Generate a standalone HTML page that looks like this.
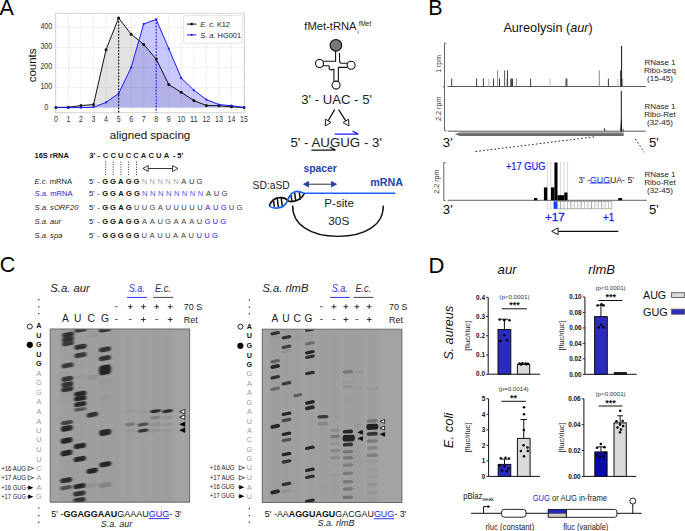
<!DOCTYPE html>
<html><head><meta charset="utf-8"><style>
html,body{margin:0;padding:0;background:#fff;}
body{width:685px;height:531px;overflow:hidden;}
svg{display:block;font-family:"Liberation Sans", sans-serif;}
</style></head><body>
<svg width="685" height="531" viewBox="0 0 685 531">
<defs>
<filter id="bl" x="-30%" y="-150%" width="160%" height="400%"><feGaussianBlur stdDeviation="0.85 0.75"/></filter>
<filter id="bl3" x="-30%" y="-150%" width="160%" height="400%"><feGaussianBlur stdDeviation="0.65 0.6"/></filter>
<filter id="lane" x="-50%" y="0%" width="200%" height="100%"><feGaussianBlur stdDeviation="1.5 0"/></filter>
<filter id="bl2" x="-30%" y="-150%" width="160%" height="400%"><feGaussianBlur stdDeviation="0.9 1.0"/></filter>
</defs>
<text x="-0.40" y="14.60" font-size="21.5">A</text>
<line x1="55.90" y1="13.30" x2="55.90" y2="112.70" stroke="#d8d8d8" stroke-width="0.7" stroke-dasharray="1.2 1.2"/>
<line x1="68.44" y1="13.30" x2="68.44" y2="112.70" stroke="#d8d8d8" stroke-width="0.7" stroke-dasharray="1.2 1.2"/>
<line x1="80.98" y1="13.30" x2="80.98" y2="112.70" stroke="#d8d8d8" stroke-width="0.7" stroke-dasharray="1.2 1.2"/>
<line x1="93.52" y1="13.30" x2="93.52" y2="112.70" stroke="#d8d8d8" stroke-width="0.7" stroke-dasharray="1.2 1.2"/>
<line x1="106.06" y1="13.30" x2="106.06" y2="112.70" stroke="#d8d8d8" stroke-width="0.7" stroke-dasharray="1.2 1.2"/>
<line x1="118.60" y1="13.30" x2="118.60" y2="112.70" stroke="#d8d8d8" stroke-width="0.7" stroke-dasharray="1.2 1.2"/>
<line x1="131.14" y1="13.30" x2="131.14" y2="112.70" stroke="#d8d8d8" stroke-width="0.7" stroke-dasharray="1.2 1.2"/>
<line x1="143.68" y1="13.30" x2="143.68" y2="112.70" stroke="#d8d8d8" stroke-width="0.7" stroke-dasharray="1.2 1.2"/>
<line x1="156.22" y1="13.30" x2="156.22" y2="112.70" stroke="#d8d8d8" stroke-width="0.7" stroke-dasharray="1.2 1.2"/>
<line x1="168.76" y1="13.30" x2="168.76" y2="112.70" stroke="#d8d8d8" stroke-width="0.7" stroke-dasharray="1.2 1.2"/>
<line x1="181.30" y1="13.30" x2="181.30" y2="112.70" stroke="#d8d8d8" stroke-width="0.7" stroke-dasharray="1.2 1.2"/>
<line x1="193.84" y1="13.30" x2="193.84" y2="112.70" stroke="#d8d8d8" stroke-width="0.7" stroke-dasharray="1.2 1.2"/>
<line x1="206.38" y1="13.30" x2="206.38" y2="112.70" stroke="#d8d8d8" stroke-width="0.7" stroke-dasharray="1.2 1.2"/>
<line x1="218.92" y1="13.30" x2="218.92" y2="112.70" stroke="#d8d8d8" stroke-width="0.7" stroke-dasharray="1.2 1.2"/>
<line x1="231.46" y1="13.30" x2="231.46" y2="112.70" stroke="#d8d8d8" stroke-width="0.7" stroke-dasharray="1.2 1.2"/>
<line x1="244.00" y1="13.30" x2="244.00" y2="112.70" stroke="#d8d8d8" stroke-width="0.7" stroke-dasharray="1.2 1.2"/>
<line x1="55.60" y1="107.60" x2="244.50" y2="107.60" stroke="#d8d8d8" stroke-width="0.7" stroke-dasharray="1.2 1.2"/>
<line x1="55.60" y1="87.55" x2="244.50" y2="87.55" stroke="#d8d8d8" stroke-width="0.7" stroke-dasharray="1.2 1.2"/>
<line x1="55.60" y1="67.50" x2="244.50" y2="67.50" stroke="#d8d8d8" stroke-width="0.7" stroke-dasharray="1.2 1.2"/>
<line x1="55.60" y1="47.45" x2="244.50" y2="47.45" stroke="#d8d8d8" stroke-width="0.7" stroke-dasharray="1.2 1.2"/>
<line x1="55.60" y1="27.40" x2="244.50" y2="27.40" stroke="#d8d8d8" stroke-width="0.7" stroke-dasharray="1.2 1.2"/>
<polygon points="55.90,107.60 55.90,107.40 68.44,107.20 80.98,105.59 93.52,104.59 106.06,49.66 118.60,17.98 131.14,34.22 143.68,44.44 156.22,59.08 168.76,84.54 181.30,92.36 193.84,100.58 206.38,105.49 218.92,105.70 231.46,106.80 244.00,107.50 244.00,107.60" fill="rgba(0,0,0,0.11)"/>
<polygon points="55.90,107.60 55.90,107.60 68.44,107.60 80.98,107.60 93.52,107.20 106.06,102.39 118.60,93.56 131.14,67.50 143.68,23.99 156.22,19.38 168.76,48.65 181.30,78.13 193.84,90.16 206.38,99.58 218.92,104.59 231.46,105.70 244.00,107.50 244.00,107.60" fill="rgba(0,0,255,0.21)"/>
<rect x="55.6" y="13.3" width="188.90" height="99.40" fill="none" stroke="#d4d4d4" stroke-width="1"/>
<line x1="118.60" y1="17.98" x2="118.60" y2="112.70" stroke="#000" stroke-width="1.2" stroke-dasharray="1.6 1.6"/>
<line x1="156.22" y1="19.38" x2="156.22" y2="112.70" stroke="#1a1aff" stroke-width="1.2" stroke-dasharray="1.6 1.6"/>
<polyline points="55.90,107.40 68.44,107.20 80.98,105.59 93.52,104.59 106.06,49.66 118.60,17.98 131.14,34.22 143.68,44.44 156.22,59.08 168.76,84.54 181.30,92.36 193.84,100.58 206.38,105.49 218.92,105.70 231.46,106.80 244.00,107.50" fill="none" stroke="#111" stroke-width="1"/>
<polyline points="55.90,107.60 68.44,107.60 80.98,107.60 93.52,107.20 106.06,102.39 118.60,93.56 131.14,67.50 143.68,23.99 156.22,19.38 168.76,48.65 181.30,78.13 193.84,90.16 206.38,99.58 218.92,104.59 231.46,105.70 244.00,107.50" fill="none" stroke="#1a1aff" stroke-width="1"/>
<circle cx="55.90" cy="107.40" r="1.5" fill="#111"/>
<circle cx="68.44" cy="107.20" r="1.5" fill="#111"/>
<circle cx="80.98" cy="105.59" r="1.5" fill="#111"/>
<circle cx="93.52" cy="104.59" r="1.5" fill="#111"/>
<circle cx="106.06" cy="49.66" r="1.5" fill="#111"/>
<circle cx="118.60" cy="17.98" r="1.5" fill="#111"/>
<circle cx="131.14" cy="34.22" r="1.5" fill="#111"/>
<circle cx="143.68" cy="44.44" r="1.5" fill="#111"/>
<circle cx="156.22" cy="59.08" r="1.5" fill="#111"/>
<circle cx="168.76" cy="84.54" r="1.5" fill="#111"/>
<circle cx="181.30" cy="92.36" r="1.5" fill="#111"/>
<circle cx="193.84" cy="100.58" r="1.5" fill="#111"/>
<circle cx="206.38" cy="105.49" r="1.5" fill="#111"/>
<circle cx="218.92" cy="105.70" r="1.5" fill="#111"/>
<circle cx="231.46" cy="106.80" r="1.5" fill="#111"/>
<circle cx="244.00" cy="107.50" r="1.5" fill="#111"/>
<circle cx="55.90" cy="107.60" r="1.1" fill="#1a1aff"/>
<circle cx="68.44" cy="107.60" r="1.1" fill="#1a1aff"/>
<circle cx="80.98" cy="107.60" r="1.1" fill="#1a1aff"/>
<circle cx="93.52" cy="107.20" r="1.1" fill="#1a1aff"/>
<circle cx="106.06" cy="102.39" r="1.1" fill="#1a1aff"/>
<circle cx="118.60" cy="93.56" r="1.1" fill="#1a1aff"/>
<circle cx="131.14" cy="67.50" r="1.1" fill="#1a1aff"/>
<circle cx="143.68" cy="23.99" r="1.1" fill="#1a1aff"/>
<circle cx="156.22" cy="19.38" r="1.1" fill="#1a1aff"/>
<circle cx="168.76" cy="48.65" r="1.1" fill="#1a1aff"/>
<circle cx="181.30" cy="78.13" r="1.1" fill="#1a1aff"/>
<circle cx="193.84" cy="90.16" r="1.1" fill="#1a1aff"/>
<circle cx="206.38" cy="99.58" r="1.1" fill="#1a1aff"/>
<circle cx="218.92" cy="104.59" r="1.1" fill="#1a1aff"/>
<circle cx="231.46" cy="105.70" r="1.1" fill="#1a1aff"/>
<circle cx="244.00" cy="107.50" r="1.1" fill="#1a1aff"/>
<rect x="183.6" y="15.4" width="58.6" height="27.8" rx="1.5" fill="#fff" stroke="#dcdcdc" stroke-width="0.8"/>
<line x1="187.00" y1="24.10" x2="196.40" y2="24.10" stroke="#111" stroke-width="1" />
<circle cx="191.7" cy="24.1" r="1.3" fill="#111"/>
<line x1="187.00" y1="34.90" x2="196.40" y2="34.90" stroke="#1a1aff" stroke-width="1" />
<circle cx="191.7" cy="34.9" r="1.1" fill="#1a1aff"/>
<text x="200.30" y="26.85" font-size="8.0" fill="#222" textLength="29.6" lengthAdjust="spacingAndGlyphs"><tspan font-style="italic">E. c.</tspan> K12</text>
<text x="200.30" y="37.65" font-size="8.0" fill="#222" textLength="40.8" lengthAdjust="spacingAndGlyphs"><tspan font-style="italic">S. a.</tspan> HG001</text>
<text x="52.30" y="88.98" font-size="8.8" text-anchor="end" fill="#333" textLength="11.9" lengthAdjust="spacingAndGlyphs">100</text>
<text x="52.30" y="68.93" font-size="8.8" text-anchor="end" fill="#333" textLength="11.9" lengthAdjust="spacingAndGlyphs">200</text>
<text x="52.30" y="48.88" font-size="8.8" text-anchor="end" fill="#333" textLength="11.9" lengthAdjust="spacingAndGlyphs">300</text>
<text x="52.30" y="28.83" font-size="8.8" text-anchor="end" fill="#333" textLength="11.9" lengthAdjust="spacingAndGlyphs">400</text>
<text x="46.30" y="109.53" font-size="8.8" text-anchor="middle" fill="#333" textLength="4.1" lengthAdjust="spacingAndGlyphs">0</text>
<text x="55.90" y="121.70" font-size="8.8" text-anchor="middle" fill="#333" textLength="3.9" lengthAdjust="spacingAndGlyphs">0</text>
<text x="68.44" y="121.70" font-size="8.8" text-anchor="middle" fill="#333" textLength="3.9" lengthAdjust="spacingAndGlyphs">1</text>
<text x="80.98" y="121.70" font-size="8.8" text-anchor="middle" fill="#333" textLength="3.9" lengthAdjust="spacingAndGlyphs">2</text>
<text x="93.52" y="121.70" font-size="8.8" text-anchor="middle" fill="#333" textLength="3.9" lengthAdjust="spacingAndGlyphs">3</text>
<text x="106.06" y="121.70" font-size="8.8" text-anchor="middle" fill="#333" textLength="3.9" lengthAdjust="spacingAndGlyphs">4</text>
<text x="118.60" y="121.70" font-size="8.8" text-anchor="middle" fill="#333" textLength="3.9" lengthAdjust="spacingAndGlyphs">5</text>
<text x="131.14" y="121.70" font-size="8.8" text-anchor="middle" fill="#333" textLength="3.9" lengthAdjust="spacingAndGlyphs">6</text>
<text x="143.68" y="121.70" font-size="8.8" text-anchor="middle" fill="#333" textLength="3.9" lengthAdjust="spacingAndGlyphs">7</text>
<text x="156.22" y="121.70" font-size="8.8" text-anchor="middle" fill="#333" textLength="3.9" lengthAdjust="spacingAndGlyphs">8</text>
<text x="168.76" y="121.70" font-size="8.8" text-anchor="middle" fill="#333" textLength="3.9" lengthAdjust="spacingAndGlyphs">9</text>
<text x="181.30" y="121.70" font-size="8.8" text-anchor="middle" fill="#333" textLength="7.8" lengthAdjust="spacingAndGlyphs">10</text>
<text x="193.84" y="121.70" font-size="8.8" text-anchor="middle" fill="#333" textLength="7.8" lengthAdjust="spacingAndGlyphs">11</text>
<text x="206.38" y="121.70" font-size="8.8" text-anchor="middle" fill="#333" textLength="7.8" lengthAdjust="spacingAndGlyphs">12</text>
<text x="218.92" y="121.70" font-size="8.8" text-anchor="middle" fill="#333" textLength="7.8" lengthAdjust="spacingAndGlyphs">13</text>
<text x="231.46" y="121.70" font-size="8.8" text-anchor="middle" fill="#333" textLength="7.8" lengthAdjust="spacingAndGlyphs">14</text>
<text x="244.00" y="121.70" font-size="8.8" text-anchor="middle" fill="#333" textLength="7.8" lengthAdjust="spacingAndGlyphs">15</text>
<text x="0" y="0" font-size="11.5" text-anchor="middle" fill="#111" transform="translate(35.6 65.4) rotate(-90)">counts</text>
<text x="150.00" y="138.60" font-size="11.6" text-anchor="middle" fill="#111">aligned spacing</text>
<text x="34.50" y="157.88" font-size="7.5" fill="#111" font-weight="bold" textLength="34.4" lengthAdjust="spacingAndGlyphs">16S rRNA</text>
<text x="34.50" y="184.21" font-size="7.6" fill="#222"><tspan font-style="italic">E.c.</tspan> mRNA</text>
<text x="34.50" y="195.91" font-size="7.6" fill="#2424e8"><tspan font-style="italic">S.a.</tspan> mRNA</text>
<text x="34.50" y="210.41" font-size="7.6" fill="#222" font-style="italic">S.a. sORF20</text>
<text x="34.50" y="224.41" font-size="7.6" fill="#222" font-style="italic">S.a. aur</text>
<text x="34.50" y="238.01" font-size="7.6" fill="#222" font-style="italic">S.a. spa</text>
<text x="89.30" y="157.91" font-size="7.6" fill="#111" font-weight="bold">3'</text>
<text x="97.50" y="157.91" font-size="7.6" fill="#111" font-weight="bold">-</text>
<text x="89.00" y="184.21" font-size="7.6" fill="#222">5'</text>
<text x="97.30" y="184.21" font-size="7.6" fill="#222">-</text>
<text x="89.00" y="195.91" font-size="7.6" fill="#222">5'</text>
<text x="97.30" y="195.91" font-size="7.6" fill="#222">-</text>
<text x="89.00" y="210.41" font-size="7.6" fill="#222">5'</text>
<text x="97.30" y="210.41" font-size="7.6" fill="#222">-</text>
<text x="89.00" y="224.41" font-size="7.6" fill="#222">5'</text>
<text x="97.30" y="224.41" font-size="7.6" fill="#222">-</text>
<text x="89.00" y="238.01" font-size="7.6" fill="#222">5'</text>
<text x="97.30" y="238.01" font-size="7.6" fill="#222">-</text>
<text x="105.60" y="157.91" font-size="7.6" text-anchor="middle" fill="#222" font-weight="bold">C</text>
<text x="113.20" y="157.91" font-size="7.6" text-anchor="middle" fill="#222" font-weight="bold">C</text>
<text x="120.80" y="157.91" font-size="7.6" text-anchor="middle" fill="#222" font-weight="bold">U</text>
<text x="128.40" y="157.91" font-size="7.6" text-anchor="middle" fill="#222" font-weight="bold">C</text>
<text x="136.00" y="157.91" font-size="7.6" text-anchor="middle" fill="#222" font-weight="bold">C</text>
<text x="143.60" y="157.91" font-size="7.6" text-anchor="middle" fill="#222" font-weight="bold">A</text>
<text x="151.20" y="157.91" font-size="7.6" text-anchor="middle" fill="#222" font-weight="bold">C</text>
<text x="158.80" y="157.91" font-size="7.6" text-anchor="middle" fill="#222" font-weight="bold">U</text>
<text x="166.40" y="157.91" font-size="7.6" text-anchor="middle" fill="#222" font-weight="bold">A</text>
<text x="173.00" y="157.91" font-size="7.6" fill="#111" font-weight="bold">-</text>
<text x="177.30" y="157.91" font-size="7.6" fill="#111" font-weight="bold">5'</text>
<text x="105.10" y="184.21" font-size="7.6" text-anchor="middle" fill="#111" font-weight="bold">G</text>
<text x="112.97" y="184.21" font-size="7.6" text-anchor="middle" fill="#111" font-weight="bold">G</text>
<text x="120.84" y="184.21" font-size="7.6" text-anchor="middle" fill="#111" font-weight="bold">A</text>
<text x="128.71" y="184.21" font-size="7.6" text-anchor="middle" fill="#111" font-weight="bold">G</text>
<text x="136.58" y="184.21" font-size="7.6" text-anchor="middle" fill="#111" font-weight="bold">G</text>
<text x="144.45" y="184.21" font-size="7.6" text-anchor="middle" fill="#a8a8a8">N</text>
<text x="152.32" y="184.21" font-size="7.6" text-anchor="middle" fill="#a8a8a8">N</text>
<text x="160.19" y="184.21" font-size="7.6" text-anchor="middle" fill="#a8a8a8">N</text>
<text x="168.06" y="184.21" font-size="7.6" text-anchor="middle" fill="#a8a8a8">N</text>
<text x="175.93" y="184.21" font-size="7.6" text-anchor="middle" fill="#a8a8a8">N</text>
<text x="183.80" y="184.21" font-size="7.6" text-anchor="middle" fill="#333">A</text>
<text x="191.67" y="184.21" font-size="7.6" text-anchor="middle" fill="#333">U</text>
<text x="199.54" y="184.21" font-size="7.6" text-anchor="middle" fill="#333">G</text>
<text x="105.10" y="195.91" font-size="7.6" text-anchor="middle" fill="#111" font-weight="bold">G</text>
<text x="113.05" y="195.91" font-size="7.6" text-anchor="middle" fill="#111" font-weight="bold">G</text>
<text x="121.00" y="195.91" font-size="7.6" text-anchor="middle" fill="#111" font-weight="bold">A</text>
<text x="128.95" y="195.91" font-size="7.6" text-anchor="middle" fill="#111" font-weight="bold">G</text>
<text x="136.90" y="195.91" font-size="7.6" text-anchor="middle" fill="#111" font-weight="bold">G</text>
<text x="144.85" y="195.91" font-size="7.6" text-anchor="middle" fill="#5a5aff">N</text>
<text x="152.80" y="195.91" font-size="7.6" text-anchor="middle" fill="#5a5aff">N</text>
<text x="160.75" y="195.91" font-size="7.6" text-anchor="middle" fill="#5a5aff">N</text>
<text x="168.70" y="195.91" font-size="7.6" text-anchor="middle" fill="#5a5aff">N</text>
<text x="176.65" y="195.91" font-size="7.6" text-anchor="middle" fill="#5a5aff">N</text>
<text x="184.60" y="195.91" font-size="7.6" text-anchor="middle" fill="#5a5aff">N</text>
<text x="192.55" y="195.91" font-size="7.6" text-anchor="middle" fill="#5a5aff">N</text>
<text x="200.50" y="195.91" font-size="7.6" text-anchor="middle" fill="#5a5aff">N</text>
<text x="208.45" y="195.91" font-size="7.6" text-anchor="middle" fill="#333">A</text>
<text x="216.40" y="195.91" font-size="7.6" text-anchor="middle" fill="#333">U</text>
<text x="224.35" y="195.91" font-size="7.6" text-anchor="middle" fill="#333">G</text>
<text x="105.10" y="210.41" font-size="7.6" text-anchor="middle" fill="#111" font-weight="bold">G</text>
<text x="113.00" y="210.41" font-size="7.6" text-anchor="middle" fill="#111" font-weight="bold">G</text>
<text x="120.90" y="210.41" font-size="7.6" text-anchor="middle" fill="#111" font-weight="bold">A</text>
<text x="128.80" y="210.41" font-size="7.6" text-anchor="middle" fill="#111" font-weight="bold">G</text>
<text x="136.70" y="210.41" font-size="7.6" text-anchor="middle" fill="#444">U</text>
<text x="144.60" y="210.41" font-size="7.6" text-anchor="middle" fill="#444">U</text>
<text x="152.50" y="210.41" font-size="7.6" text-anchor="middle" fill="#444">G</text>
<text x="160.40" y="210.41" font-size="7.6" text-anchor="middle" fill="#444">A</text>
<text x="168.30" y="210.41" font-size="7.6" text-anchor="middle" fill="#444">U</text>
<text x="176.20" y="210.41" font-size="7.6" text-anchor="middle" fill="#444">U</text>
<text x="184.10" y="210.41" font-size="7.6" text-anchor="middle" fill="#444">U</text>
<text x="192.00" y="210.41" font-size="7.6" text-anchor="middle" fill="#444">U</text>
<text x="199.90" y="210.41" font-size="7.6" text-anchor="middle" fill="#444">U</text>
<text x="207.80" y="210.41" font-size="7.6" text-anchor="middle" fill="#2424e8">A</text>
<text x="215.70" y="210.41" font-size="7.6" text-anchor="middle" fill="#2424e8">U</text>
<text x="223.60" y="210.41" font-size="7.6" text-anchor="middle" fill="#2424e8">G</text>
<text x="231.50" y="210.41" font-size="7.6" text-anchor="middle" fill="#444">U</text>
<text x="239.40" y="210.41" font-size="7.6" text-anchor="middle" fill="#444">G</text>
<text x="105.10" y="224.41" font-size="7.6" text-anchor="middle" fill="#111" font-weight="bold">G</text>
<text x="112.97" y="224.41" font-size="7.6" text-anchor="middle" fill="#111" font-weight="bold">G</text>
<text x="120.84" y="224.41" font-size="7.6" text-anchor="middle" fill="#111" font-weight="bold">A</text>
<text x="128.71" y="224.41" font-size="7.6" text-anchor="middle" fill="#111" font-weight="bold">G</text>
<text x="136.58" y="224.41" font-size="7.6" text-anchor="middle" fill="#111" font-weight="bold">G</text>
<text x="144.45" y="224.41" font-size="7.6" text-anchor="middle" fill="#444">A</text>
<text x="152.32" y="224.41" font-size="7.6" text-anchor="middle" fill="#444">A</text>
<text x="160.19" y="224.41" font-size="7.6" text-anchor="middle" fill="#444">U</text>
<text x="168.06" y="224.41" font-size="7.6" text-anchor="middle" fill="#444">G</text>
<text x="175.93" y="224.41" font-size="7.6" text-anchor="middle" fill="#444">A</text>
<text x="183.80" y="224.41" font-size="7.6" text-anchor="middle" fill="#444">A</text>
<text x="191.67" y="224.41" font-size="7.6" text-anchor="middle" fill="#444">A</text>
<text x="199.54" y="224.41" font-size="7.6" text-anchor="middle" fill="#444">U</text>
<text x="207.41" y="224.41" font-size="7.6" text-anchor="middle" fill="#2424e8">G</text>
<text x="215.28" y="224.41" font-size="7.6" text-anchor="middle" fill="#2424e8">U</text>
<text x="223.15" y="224.41" font-size="7.6" text-anchor="middle" fill="#2424e8">G</text>
<text x="105.10" y="238.01" font-size="7.6" text-anchor="middle" fill="#111" font-weight="bold">G</text>
<text x="112.94" y="238.01" font-size="7.6" text-anchor="middle" fill="#111" font-weight="bold">G</text>
<text x="120.78" y="238.01" font-size="7.6" text-anchor="middle" fill="#111" font-weight="bold">G</text>
<text x="128.62" y="238.01" font-size="7.6" text-anchor="middle" fill="#111" font-weight="bold">G</text>
<text x="136.46" y="238.01" font-size="7.6" text-anchor="middle" fill="#111" font-weight="bold">G</text>
<text x="144.30" y="238.01" font-size="7.6" text-anchor="middle" fill="#444">U</text>
<text x="152.14" y="238.01" font-size="7.6" text-anchor="middle" fill="#444">A</text>
<text x="159.98" y="238.01" font-size="7.6" text-anchor="middle" fill="#444">U</text>
<text x="167.82" y="238.01" font-size="7.6" text-anchor="middle" fill="#444">U</text>
<text x="175.66" y="238.01" font-size="7.6" text-anchor="middle" fill="#444">A</text>
<text x="183.50" y="238.01" font-size="7.6" text-anchor="middle" fill="#444">A</text>
<text x="191.34" y="238.01" font-size="7.6" text-anchor="middle" fill="#444">U</text>
<text x="199.18" y="238.01" font-size="7.6" text-anchor="middle" fill="#2424e8">U</text>
<text x="207.02" y="238.01" font-size="7.6" text-anchor="middle" fill="#2424e8">U</text>
<text x="214.86" y="238.01" font-size="7.6" text-anchor="middle" fill="#2424e8">G</text>
<line x1="105.70" y1="161.60" x2="105.70" y2="176.40" stroke="#111" stroke-width="0.9" stroke-dasharray="1 1.5"/>
<line x1="113.20" y1="161.60" x2="113.20" y2="176.40" stroke="#111" stroke-width="0.9" stroke-dasharray="1 1.5"/>
<line x1="120.90" y1="161.60" x2="120.90" y2="176.40" stroke="#111" stroke-width="0.9" stroke-dasharray="1 1.5"/>
<line x1="128.60" y1="161.60" x2="128.60" y2="176.40" stroke="#111" stroke-width="0.9" stroke-dasharray="1 1.5"/>
<line x1="136.50" y1="161.60" x2="136.50" y2="176.40" stroke="#111" stroke-width="0.9" stroke-dasharray="1 1.5"/>
<line x1="147.00" y1="168.50" x2="174.00" y2="168.50" stroke="#222" stroke-width="0.9" />
<path d="M142.8,168.5 L148.2,165.5 L148.2,171.5 Z" fill="#fff" stroke="#222" stroke-width="0.9"/>
<path d="M177.9,168.5 L172.5,165.5 L172.5,171.5 Z" fill="#fff" stroke="#222" stroke-width="0.9"/>
<text x="304.30" y="29.75" font-size="11.2" fill="#222">fMet-tRNA</text>
<text x="358.70" y="25.80" font-size="6.3" fill="#222" textLength="12.5" lengthAdjust="spacingAndGlyphs">fMet</text>
<text x="357.40" y="33.60" font-size="5.6" fill="#222">i</text>
<circle cx="335.9" cy="45.3" r="5.8" fill="#777" stroke="#111" stroke-width="1.1"/>
<path d="M335.6,51 L335.6,61.2 L323.5,61.2" stroke="#111" stroke-width="1.1" fill="none" stroke-linecap="round" stroke-linejoin="round"/>
<path d="M339.5,53.3 L339.6,61.5 Q340,63.2 341.5,63.2 L347.2,63.2" stroke="#111" stroke-width="1.1" fill="none" stroke-linecap="round" stroke-linejoin="round"/>
<path d="M338.4,67.4 L347.2,67.4 M338.4,67.4 L338.4,81.2" stroke="#111" stroke-width="1.1" fill="none" stroke-linecap="round" stroke-linejoin="round"/>
<path d="M323.5,65.8 L328.4,65.8 Q329.5,66 329.2,67.5 Q328.8,69.3 330.5,69.8 Q332.3,70.2 333.3,69.2 L333.9,69.2 L333.9,81.2" stroke="#111" stroke-width="1.1" fill="none" stroke-linecap="round" stroke-linejoin="round"/>
<circle cx="319.5" cy="63.5" r="4" fill="#fff" stroke="#111" stroke-width="1.1"/>
<circle cx="351.1" cy="65.3" r="4" fill="#fff" stroke="#111" stroke-width="1.1"/>
<circle cx="336.1" cy="85.1" r="4" fill="#fff" stroke="#111" stroke-width="1.1"/>
<text x="301.20" y="103.70" font-size="12.2" fill="#222" textLength="70.8" lengthAdjust="spacingAndGlyphs">3' - UAC - 5'</text>
<line x1="334.60" y1="109.60" x2="328.26" y2="120.78" stroke="#111" stroke-width="1.2" />
<path d="M325.30,126.00 L325.48,119.20 L331.04,122.36 Z" fill="#fff" stroke="#111" stroke-width="0.96" stroke-linejoin="miter"/>
<line x1="338.60" y1="109.60" x2="345.79" y2="120.93" stroke="#111" stroke-width="1.2" />
<path d="M349.00,126.00 L343.08,122.65 L348.49,119.22 Z" fill="#fff" stroke="#111" stroke-width="0.96" stroke-linejoin="miter"/>
<text x="290.40" y="146.54" font-size="13.2" fill="#222" textLength="91.6" lengthAdjust="spacingAndGlyphs">5' - AUGUG - 3'</text>
<path d="M334.6,134.1 L358.2,134.1 L352.5,131.0" fill="none" stroke="#1a1aff" stroke-width="1.3"/>
<path d="M311.3,150.1 L335.4,150.1 L329.7,147.0" fill="none" stroke="#111" stroke-width="1.3"/>
<text x="303.40" y="172.30" font-size="10.5" fill="#2046ad" font-weight="bold" textLength="33.4" lengthAdjust="spacingAndGlyphs">spacer</text>
<line x1="308.00" y1="184.20" x2="332.00" y2="184.20" stroke="#333" stroke-width="1" />
<path d="M303.4,184.2 L308.6,181.3 L308.6,187.1 Z" fill="#1a3cd8" stroke="#223" stroke-width="0.5"/>
<path d="M336.6,184.2 L331.4,181.3 L331.4,187.1 Z" fill="#1a3cd8" stroke="#223" stroke-width="0.5"/>
<text x="252.60" y="189.07" font-size="10.1" fill="#222" textLength="37.2" lengthAdjust="spacingAndGlyphs">SD:aSD</text>
<text x="370.30" y="185.92" font-size="10.8" fill="#2046ad" font-weight="bold" textLength="32.7" lengthAdjust="spacingAndGlyphs">mRNA</text>
<line x1="304.20" y1="193.30" x2="395.30" y2="193.30" stroke="#1f5fff" stroke-width="1.5" />
<line x1="273.30" y1="199.90" x2="274.40" y2="206.90" stroke="#111" stroke-width="1.5" />
<line x1="277.20" y1="198.40" x2="278.50" y2="207.60" stroke="#111" stroke-width="1.5" />
<line x1="281.20" y1="198.20" x2="282.40" y2="207.00" stroke="#111" stroke-width="1.5" />
<line x1="290.80" y1="194.40" x2="291.90" y2="201.30" stroke="#111" stroke-width="1.5" />
<line x1="294.60" y1="192.40" x2="295.80" y2="201.40" stroke="#111" stroke-width="1.5" />
<line x1="299.20" y1="192.00" x2="300.40" y2="199.60" stroke="#111" stroke-width="1.5" />
<path d="M269.3,206.0 C271.5,200 276,197.6 280.5,197.7 C284,197.8 286.3,198.8 287.6,200.3" fill="none" stroke="#111" stroke-width="1.7"/>
<path d="M287.6,200.3 C289,202 291,201.6 293,201.4 C298.5,200.8 302.5,197 304.4,193.4" fill="none" stroke="#111" stroke-width="1.7"/>
<path d="M269.3,206.0 C271,207.6 274,208.3 277,208.1 C282,207.8 286,205 287.6,200.3 C289.5,194.5 293.5,191.2 297,191.3 C300.5,191.4 302.5,192.6 304.4,193.4" fill="none" stroke="#1f5fff" stroke-width="1.7"/>
<path d="M292.7,205.5 C292.0,224 310,236.4 338,236.4 C366,236.4 384,224 383.2,205.6" fill="none" stroke="#111" stroke-width="1.4"/>
<text x="324.30" y="207.05" font-size="11.2" fill="#222" textLength="29.7" lengthAdjust="spacingAndGlyphs">P-site</text>
<text x="328.30" y="225.05" font-size="11.2" fill="#222" textLength="21" lengthAdjust="spacingAndGlyphs">30S</text>
<text x="428.30" y="14.60" font-size="21.5">B</text>
<text x="503.40" y="31.63" font-size="12.6" fill="#111" textLength="89.3" lengthAdjust="spacingAndGlyphs">Aureolysin (<tspan font-style="italic">aur</tspan>)</text>
<line x1="444.50" y1="43.20" x2="444.50" y2="130.60" stroke="#555" stroke-width="0.9" />
<line x1="444.50" y1="43.20" x2="446.30" y2="43.20" stroke="#555" stroke-width="0.9" />
<line x1="442.80" y1="86.80" x2="444.50" y2="86.80" stroke="#555" stroke-width="0.9" />
<line x1="444.50" y1="130.60" x2="446.30" y2="130.60" stroke="#555" stroke-width="0.9" />
<line x1="447.60" y1="86.50" x2="645.80" y2="86.50" stroke="#444" stroke-width="0.9" />
<line x1="447.60" y1="131.20" x2="645.80" y2="131.20" stroke="#444" stroke-width="0.9" />
<text x="0" y="0" font-size="7" text-anchor="middle" fill="#333" transform="translate(440.9 63.9) rotate(-90)">1 rpm</text>
<text x="0" y="0" font-size="7.2" text-anchor="middle" fill="#333" transform="translate(440.9 108.7) rotate(-90)">2.2 rpm</text>
<line x1="451.70" y1="78.60" x2="451.70" y2="86.50" stroke="#3c3c3c" stroke-width="1.0" />
<line x1="476.60" y1="78.60" x2="476.60" y2="86.50" stroke="#3c3c3c" stroke-width="1.0" />
<line x1="483.40" y1="78.60" x2="483.40" y2="86.50" stroke="#3c3c3c" stroke-width="1.0" />
<line x1="488.80" y1="78.60" x2="488.80" y2="86.50" stroke="#bbbbbb" stroke-width="1.0" />
<line x1="493.50" y1="78.60" x2="493.50" y2="86.50" stroke="#3c3c3c" stroke-width="1.0" />
<line x1="497.60" y1="70.30" x2="497.60" y2="86.50" stroke="#8a8a8a" stroke-width="1.0" />
<line x1="499.50" y1="78.60" x2="499.50" y2="86.50" stroke="#3c3c3c" stroke-width="1.0" />
<line x1="504.60" y1="70.30" x2="504.60" y2="86.50" stroke="#555" stroke-width="1.0" />
<line x1="506.80" y1="78.60" x2="506.80" y2="86.50" stroke="#bbbbbb" stroke-width="1.0" />
<line x1="507.50" y1="70.30" x2="507.50" y2="86.50" stroke="#3c3c3c" stroke-width="1.0" />
<line x1="510.80" y1="78.60" x2="510.80" y2="86.50" stroke="#3c3c3c" stroke-width="1.0" />
<line x1="511.60" y1="78.60" x2="511.60" y2="86.50" stroke="#3c3c3c" stroke-width="1.0" />
<line x1="512.50" y1="78.60" x2="512.50" y2="86.50" stroke="#3c3c3c" stroke-width="1.0" />
<line x1="516.40" y1="78.60" x2="516.40" y2="86.50" stroke="#8a8a8a" stroke-width="1.0" />
<line x1="530.60" y1="78.60" x2="530.60" y2="86.50" stroke="#3c3c3c" stroke-width="1.0" />
<line x1="550.00" y1="78.60" x2="550.00" y2="86.50" stroke="#bbbbbb" stroke-width="1.0" />
<line x1="566.00" y1="78.60" x2="566.00" y2="86.50" stroke="#3c3c3c" stroke-width="1.0" />
<line x1="566.90" y1="78.60" x2="566.90" y2="86.50" stroke="#3c3c3c" stroke-width="1.0" />
<line x1="599.30" y1="70.30" x2="599.30" y2="86.50" stroke="#8a8a8a" stroke-width="1.0" />
<line x1="608.40" y1="78.60" x2="608.40" y2="86.50" stroke="#3c3c3c" stroke-width="1.0" />
<line x1="617.90" y1="78.60" x2="617.90" y2="86.50" stroke="#bbbbbb" stroke-width="1.0" />
<line x1="620.60" y1="70.30" x2="620.60" y2="86.50" stroke="#3c3c3c" stroke-width="1.0" />
<line x1="621.60" y1="45.90" x2="621.60" y2="86.50" stroke="#111" stroke-width="1.0" />
<line x1="622.60" y1="78.60" x2="622.60" y2="86.50" stroke="#8a8a8a" stroke-width="1.0" />
<line x1="621.30" y1="90.90" x2="621.30" y2="131.20" stroke="#111" stroke-width="1.0" />
<path d="M620.3,131.2 L621.3,116 L622.3,131.2 Z" fill="#111"/>
<line x1="604.60" y1="128.30" x2="604.60" y2="131.20" stroke="#333" stroke-width="1.0" />
<line x1="623.40" y1="128.80" x2="623.40" y2="131.20" stroke="#555" stroke-width="0.8" />
<path d="M454.6,134.3 L460,132.6 L623.6,132.6 L623.6,136.0 L460,136.0 Z" fill="#6a6a6a"/>
<line x1="460.00" y1="133.20" x2="623.60" y2="133.20" stroke="#9a9a9a" stroke-width="0.6" />
<text x="660.00" y="64.95" font-size="8.0" text-anchor="middle" fill="#222">RNase 1</text>
<text x="660.00" y="72.95" font-size="8.0" text-anchor="middle" fill="#222">Ribo-seq</text>
<text x="660.00" y="81.05" font-size="8.0" text-anchor="middle" fill="#222">(15-45)</text>
<text x="660.00" y="108.95" font-size="8.0" text-anchor="middle" fill="#222">RNase 1</text>
<text x="660.00" y="116.55" font-size="8.0" text-anchor="middle" fill="#222">Ribo-Ret</text>
<text x="660.00" y="124.75" font-size="8.0" text-anchor="middle" fill="#222">(32-45)</text>
<text x="442.80" y="146.54" font-size="13.2" fill="#111">3'</text>
<text x="649.00" y="146.74" font-size="13.2" fill="#111">5'</text>
<line x1="594.00" y1="136.90" x2="473.60" y2="151.80" stroke="#222" stroke-width="1.0" stroke-dasharray="1.6 2.2"/>
<line x1="635.30" y1="139.00" x2="644.40" y2="152.30" stroke="#222" stroke-width="1.0" stroke-dasharray="1.6 2.2"/>
<line x1="443.80" y1="162.60" x2="443.80" y2="200.50" stroke="#555" stroke-width="0.9" />
<line x1="443.80" y1="162.60" x2="445.50" y2="162.60" stroke="#555" stroke-width="0.9" />
<line x1="443.80" y1="200.50" x2="445.50" y2="200.50" stroke="#555" stroke-width="0.9" />
<line x1="447.60" y1="200.30" x2="646.90" y2="200.30" stroke="#555" stroke-width="0.9" />
<text x="0" y="0" font-size="7.2" text-anchor="middle" fill="#333" transform="translate(439.4 181.6) rotate(-90)">2.2 rpm</text>
<line x1="547.30" y1="162.50" x2="547.30" y2="210.00" stroke="#808080" stroke-width="0.7" stroke-dasharray="0.9 1.1"/>
<line x1="550.80" y1="162.50" x2="550.80" y2="210.00" stroke="#808080" stroke-width="0.7" stroke-dasharray="0.9 1.1"/>
<line x1="560.50" y1="162.50" x2="560.50" y2="210.00" stroke="#808080" stroke-width="0.7" stroke-dasharray="0.9 1.1"/>
<line x1="564.00" y1="162.50" x2="564.00" y2="210.00" stroke="#808080" stroke-width="0.7" stroke-dasharray="0.9 1.1"/>
<line x1="567.60" y1="162.50" x2="567.60" y2="210.00" stroke="#808080" stroke-width="0.7" stroke-dasharray="0.9 1.1"/>
<rect x="534.00" y="198.00" width="3.30" height="2.30" fill="#000" />
<rect x="543.90" y="187.40" width="3.40" height="12.90" fill="#000" />
<rect x="551.00" y="187.40" width="3.40" height="12.90" fill="#000" />
<rect x="554.40" y="162.50" width="3.10" height="37.80" fill="#000" />
<rect x="557.50" y="195.20" width="6.80" height="5.10" fill="#000" />
<rect x="564.30" y="192.50" width="3.20" height="7.80" fill="#000" />
<rect x="618.30" y="198.00" width="3.80" height="2.30" fill="#000" />
<rect x="553.80" y="201.60" width="58.10" height="7.20" fill="#fafafa" stroke="#8a8a8a" stroke-width="0.6"/>
<line x1="557.22" y1="201.60" x2="557.22" y2="208.80" stroke="#a0a0a0" stroke-width="0.6" />
<line x1="560.64" y1="201.60" x2="560.64" y2="208.80" stroke="#6a6a6a" stroke-width="0.6" />
<line x1="564.05" y1="201.60" x2="564.05" y2="208.80" stroke="#a0a0a0" stroke-width="0.6" />
<line x1="567.47" y1="201.60" x2="567.47" y2="208.80" stroke="#a0a0a0" stroke-width="0.6" />
<line x1="570.89" y1="201.60" x2="570.89" y2="208.80" stroke="#6a6a6a" stroke-width="0.6" />
<line x1="574.31" y1="201.60" x2="574.31" y2="208.80" stroke="#a0a0a0" stroke-width="0.6" />
<line x1="577.72" y1="201.60" x2="577.72" y2="208.80" stroke="#a0a0a0" stroke-width="0.6" />
<line x1="581.14" y1="201.60" x2="581.14" y2="208.80" stroke="#6a6a6a" stroke-width="0.6" />
<line x1="584.56" y1="201.60" x2="584.56" y2="208.80" stroke="#a0a0a0" stroke-width="0.6" />
<line x1="587.98" y1="201.60" x2="587.98" y2="208.80" stroke="#a0a0a0" stroke-width="0.6" />
<line x1="591.39" y1="201.60" x2="591.39" y2="208.80" stroke="#6a6a6a" stroke-width="0.6" />
<line x1="594.81" y1="201.60" x2="594.81" y2="208.80" stroke="#a0a0a0" stroke-width="0.6" />
<line x1="598.23" y1="201.60" x2="598.23" y2="208.80" stroke="#a0a0a0" stroke-width="0.6" />
<line x1="601.65" y1="201.60" x2="601.65" y2="208.80" stroke="#6a6a6a" stroke-width="0.6" />
<line x1="605.06" y1="201.60" x2="605.06" y2="208.80" stroke="#a0a0a0" stroke-width="0.6" />
<line x1="608.48" y1="201.60" x2="608.48" y2="208.80" stroke="#a0a0a0" stroke-width="0.6" />
<rect x="553.80" y="201.60" width="3.60" height="7.20" fill="#1a3cff" />
<text x="505.90" y="170.31" font-size="10.2" fill="#1a1aff" textLength="39.5" lengthAdjust="spacingAndGlyphs" stroke="#1a1aff" stroke-width="0.2">+17 GUG</text>
<text x="578.20" y="183.23" font-size="9.4" fill="#222" textLength="55.8" lengthAdjust="spacingAndGlyphs">3' -<tspan fill="#1a1aff">GUG</tspan>UA- 5'</text>
<line x1="590.00" y1="183.00" x2="610.60" y2="183.00" stroke="#1a1aff" stroke-width="0.8" />
<text x="660.00" y="176.75" font-size="8.0" text-anchor="middle" fill="#222">RNase 1</text>
<text x="660.00" y="184.85" font-size="8.0" text-anchor="middle" fill="#222">Ribo-Ret</text>
<text x="660.00" y="192.75" font-size="8.0" text-anchor="middle" fill="#222">(32-45)</text>
<text x="442.80" y="213.54" font-size="13.2" fill="#111">3'</text>
<text x="649.00" y="213.54" font-size="13.2" fill="#111">5'</text>
<text x="544.90" y="221.10" font-size="11.8" fill="#1a1aff" textLength="19.9" lengthAdjust="spacingAndGlyphs" stroke="#1a1aff" stroke-width="0.3">+17</text>
<text x="603.10" y="221.10" font-size="11.8" fill="#1a1aff" textLength="11.1" lengthAdjust="spacingAndGlyphs" stroke="#1a1aff" stroke-width="0.3">+1</text>
<line x1="618.30" y1="231.30" x2="558.10" y2="231.30" stroke="#111" stroke-width="1.2" />
<path d="M551.70,231.30 L558.10,227.90 L558.10,234.70 Z" fill="#fff" stroke="#111" stroke-width="0.96" stroke-linejoin="miter"/>
<text x="-0.30" y="272.40" font-size="21.5">C</text>
<rect x="50.2" y="329.0" width="139.40" height="173.20" fill="#a3a3a3"/>
<rect x="60.50" y="329.00" width="12.20" height="173.20" fill="rgba(0,0,0,0.03)" filter="url(#lane)"/>
<rect x="73.75" y="329.00" width="12.30" height="173.20" fill="rgba(0,0,0,0.03)" filter="url(#lane)"/>
<rect x="87.00" y="329.00" width="11.00" height="173.20" fill="rgba(0,0,0,0.03)" filter="url(#lane)"/>
<rect x="98.85" y="329.00" width="12.50" height="173.20" fill="rgba(0,0,0,0.03)" filter="url(#lane)"/>
<rect x="111.35" y="329.00" width="10.50" height="173.20" fill="rgba(0,0,0,0.03)" filter="url(#lane)"/>
<rect x="125.05" y="329.00" width="10.50" height="173.20" fill="rgba(0,0,0,0.03)" filter="url(#lane)"/>
<rect x="137.85" y="329.00" width="10.50" height="173.20" fill="rgba(0,0,0,0.03)" filter="url(#lane)"/>
<rect x="150.25" y="329.00" width="10.50" height="173.20" fill="rgba(0,0,0,0.03)" filter="url(#lane)"/>
<rect x="162.35" y="329.00" width="10.50" height="173.20" fill="rgba(0,0,0,0.03)" filter="url(#lane)"/>
<g clip-path="url(#clip50)">
<path d="M64.14,333.01 L71.94,331.61 C73.04,331.61 73.94,332.68 73.94,334.00 C73.94,335.32 73.04,336.39 71.94,336.39 L64.14,337.79 C63.04,337.79 62.14,336.72 62.14,335.40 C62.14,334.08 63.04,333.01 64.14,333.01 Z" fill="rgb(48,48,48)" filter="url(#bl)"/>
<path d="M64.08,337.41 L71.88,336.01 C72.98,336.01 73.88,337.08 73.88,338.40 C73.88,339.72 72.98,340.79 71.88,340.79 L64.08,342.19 C62.98,342.19 62.08,341.12 62.08,339.80 C62.08,338.48 62.98,337.41 64.08,337.41 Z" fill="rgb(48,48,48)" filter="url(#bl)"/>
<path d="M64.02,341.71 L71.82,340.31 C72.92,340.31 73.82,341.38 73.82,342.70 C73.82,344.02 72.92,345.09 71.82,345.09 L64.02,346.49 C62.92,346.49 62.02,345.42 62.02,344.10 C62.02,342.78 62.92,341.71 64.02,341.71 Z" fill="rgb(56,56,56)" filter="url(#bl)"/>
<path d="M63.74,363.71 L71.54,362.31 C72.64,362.31 73.54,363.38 73.54,364.70 C73.54,366.02 72.64,367.09 71.54,367.09 L63.74,368.49 C62.64,368.49 61.74,367.42 61.74,366.10 C61.74,364.78 62.64,363.71 63.74,363.71 Z" fill="rgb(56,56,56)" filter="url(#bl)"/>
<path d="M63.56,377.11 L71.36,375.71 C72.46,375.71 73.36,376.78 73.36,378.10 C73.36,379.42 72.46,380.49 71.36,380.49 L63.56,381.89 C62.46,381.89 61.56,380.82 61.56,379.50 C61.56,378.18 62.46,377.11 63.56,377.11 Z" fill="rgb(56,56,56)" filter="url(#bl)"/>
<path d="M63.49,382.71 L71.29,381.31 C72.39,381.31 73.29,382.38 73.29,383.70 C73.29,385.02 72.39,386.09 71.29,386.09 L63.49,387.49 C62.39,387.49 61.49,386.42 61.49,385.10 C61.49,383.78 62.39,382.71 63.49,382.71 Z" fill="rgb(48,48,48)" filter="url(#bl)"/>
<path d="M63.42,387.51 L71.22,386.11 C72.32,386.11 73.22,387.18 73.22,388.50 C73.22,389.82 72.32,390.89 71.22,390.89 L63.42,392.29 C62.32,392.29 61.42,391.22 61.42,389.90 C61.42,388.58 62.32,387.51 63.42,387.51 Z" fill="rgb(48,48,48)" filter="url(#bl)"/>
<path d="M63.36,392.81 L71.16,391.41 C72.26,391.41 73.16,392.48 73.16,393.80 C73.16,395.12 72.26,396.19 71.16,396.19 L63.36,397.59 C62.26,397.59 61.36,396.52 61.36,395.20 C61.36,393.88 62.26,392.81 63.36,392.81 Z" fill="rgb(152,152,152)" filter="url(#bl)"/>
<path d="M63.28,398.41 L71.08,397.01 C72.18,397.01 73.08,398.08 73.08,399.40 C73.08,400.72 72.18,401.79 71.08,401.79 L63.28,403.19 C62.18,403.19 61.28,402.12 61.28,400.80 C61.28,399.48 62.18,398.41 63.28,398.41 Z" fill="rgb(155,155,155)" filter="url(#bl)"/>
<path d="M62.99,421.31 L70.79,419.91 C71.89,419.91 72.79,420.80 72.79,421.90 C72.79,423.00 71.89,423.90 70.79,423.90 L62.99,425.30 C61.89,425.30 60.99,424.40 60.99,423.30 C60.99,422.20 61.89,421.31 62.99,421.31 Z" fill="rgb(64,64,64)" filter="url(#bl)"/>
<path d="M62.91,426.31 L70.71,424.91 C71.81,424.91 72.71,426.16 72.71,427.70 C72.71,429.24 71.81,430.49 70.71,430.49 L62.91,431.89 C61.81,431.89 60.91,430.64 60.91,429.10 C60.91,427.56 61.81,426.31 62.91,426.31 Z" fill="rgb(40,40,40)" filter="url(#bl)"/>
<path d="M62.75,438.41 L70.55,437.01 C71.65,437.01 72.55,438.26 72.55,439.80 C72.55,441.34 71.65,442.59 70.55,442.59 L62.75,443.99 C61.65,443.99 60.75,442.74 60.75,441.20 C60.75,439.66 61.65,438.41 62.75,438.41 Z" fill="rgb(40,40,40)" filter="url(#bl)"/>
<path d="M62.59,450.91 L70.39,449.51 C71.49,449.51 72.39,450.76 72.39,452.30 C72.39,453.84 71.49,455.09 70.39,455.09 L62.59,456.49 C61.49,456.49 60.59,455.24 60.59,453.70 C60.59,452.16 61.49,450.91 62.59,450.91 Z" fill="rgb(40,40,40)" filter="url(#bl)"/>
<path d="M62.23,478.51 L70.03,477.11 C71.13,477.11 72.03,478.18 72.03,479.50 C72.03,480.82 71.13,481.89 70.03,481.89 L62.23,483.29 C61.13,483.29 60.23,482.22 60.23,480.90 C60.23,479.58 61.13,478.51 62.23,478.51 Z" fill="rgb(45,45,45)" filter="url(#bl)"/>
<path d="M62.13,486.40 L69.93,485.00 C71.03,485.00 71.93,485.90 71.93,487.00 C71.93,488.10 71.03,489.00 69.93,489.00 L62.13,490.39 C61.03,490.39 60.13,489.50 60.13,488.40 C60.13,487.30 61.03,486.40 62.13,486.40 Z" fill="rgb(80,80,80)" filter="url(#bl)"/>
<path d="M76.55,327.91 L84.85,326.51 C85.95,326.51 86.85,327.58 86.85,328.90 C86.85,330.22 85.95,331.29 84.85,331.29 L76.55,332.69 C75.45,332.69 74.55,331.62 74.55,330.30 C74.55,328.98 75.45,327.91 76.55,327.91 Z" fill="rgb(56,56,56)" filter="url(#bl)"/>
<path d="M76.43,345.11 L84.73,343.71 C85.83,343.71 86.73,344.78 86.73,346.10 C86.73,347.42 85.83,348.49 84.73,348.49 L76.43,349.89 C75.33,349.89 74.43,348.82 74.43,347.50 C74.43,346.18 75.33,345.11 76.43,345.11 Z" fill="rgb(48,48,48)" filter="url(#bl)"/>
<path d="M76.37,353.41 L84.67,352.01 C85.77,352.01 86.67,353.08 86.67,354.40 C86.67,355.72 85.77,356.79 84.67,356.79 L76.37,358.19 C75.27,358.19 74.37,357.12 74.37,355.80 C74.37,354.48 75.27,353.41 76.37,353.41 Z" fill="rgb(56,56,56)" filter="url(#bl)"/>
<path d="M76.21,375.31 L84.51,373.91 C85.61,373.91 86.51,374.98 86.51,376.30 C86.51,377.62 85.61,378.69 84.51,378.69 L76.21,380.09 C75.11,380.09 74.21,379.02 74.21,377.70 C74.21,376.38 75.11,375.31 76.21,375.31 Z" fill="rgb(155,155,155)" filter="url(#bl)"/>
<path d="M76.09,391.91 L84.39,390.51 C85.49,390.51 86.39,391.58 86.39,392.90 C86.39,394.22 85.49,395.29 84.39,395.29 L76.09,396.69 C74.99,396.69 74.09,395.62 74.09,394.30 C74.09,392.98 74.99,391.91 76.09,391.91 Z" fill="rgb(40,40,40)" filter="url(#bl)"/>
<path d="M76.06,396.71 L84.36,395.31 C85.46,395.31 86.36,396.38 86.36,397.70 C86.36,399.02 85.46,400.09 84.36,400.09 L76.06,401.49 C74.96,401.49 74.06,400.42 74.06,399.10 C74.06,397.78 74.96,396.71 76.06,396.71 Z" fill="rgb(40,40,40)" filter="url(#bl)"/>
<path d="M76.02,402.41 L84.32,401.01 C85.42,401.01 86.32,402.08 86.32,403.40 C86.32,404.72 85.42,405.79 84.32,405.79 L76.02,407.19 C74.92,407.19 74.02,406.12 74.02,404.80 C74.02,403.48 74.92,402.41 76.02,402.41 Z" fill="rgb(40,40,40)" filter="url(#bl)"/>
<path d="M75.98,408.37 L84.28,406.97 C85.38,406.97 86.28,407.75 86.28,408.70 C86.28,409.65 85.38,410.43 84.28,410.43 L75.98,411.83 C74.88,411.83 73.98,411.05 73.98,410.10 C73.98,409.15 74.88,408.37 75.98,408.37 Z" fill="rgb(88,88,88)" filter="url(#bl)"/>
<path d="M75.72,444.07 L84.02,442.67 C85.12,442.67 86.02,443.81 86.02,445.20 C86.02,446.59 85.12,447.73 84.02,447.73 L75.72,449.13 C74.62,449.13 73.72,447.99 73.72,446.60 C73.72,445.21 74.62,444.07 75.72,444.07 Z" fill="rgb(40,40,40)" filter="url(#bl)"/>
<path d="M75.62,457.17 L83.92,455.77 C85.02,455.77 85.92,456.91 85.92,458.30 C85.92,459.69 85.02,460.83 83.92,460.83 L75.62,462.23 C74.52,462.23 73.62,461.09 73.62,459.70 C73.62,458.31 74.52,457.17 75.62,457.17 Z" fill="rgb(40,40,40)" filter="url(#bl)"/>
<path d="M75.43,484.41 L83.73,483.01 C84.83,483.01 85.73,484.08 85.73,485.40 C85.73,486.72 84.83,487.79 83.73,487.79 L75.43,489.19 C74.33,489.19 73.43,488.12 73.43,486.80 C73.43,485.48 74.33,484.41 75.43,484.41 Z" fill="rgb(40,40,40)" filter="url(#bl)"/>
<path d="M75.37,491.81 L83.67,490.41 C84.77,490.41 85.67,491.48 85.67,492.80 C85.67,494.12 84.77,495.19 83.67,495.19 L75.37,496.59 C74.27,496.59 73.37,495.52 73.37,494.20 C73.37,492.88 74.27,491.81 75.37,491.81 Z" fill="rgb(48,48,48)" filter="url(#bl)"/>
<path d="M75.33,498.31 L83.63,496.91 C84.73,496.91 85.63,497.98 85.63,499.30 C85.63,500.62 84.73,501.69 83.63,501.69 L75.33,503.09 C74.23,503.09 73.33,502.02 73.33,500.70 C73.33,499.38 74.23,498.31 75.33,498.31 Z" fill="rgb(48,48,48)" filter="url(#bl)"/>
<path d="M88.98,333.81 L96.38,332.41 C97.48,332.41 98.38,333.48 98.38,334.80 C98.38,336.12 97.48,337.19 96.38,337.19 L88.98,338.59 C87.88,338.59 86.98,337.52 86.98,336.20 C86.98,334.88 87.88,333.81 88.98,333.81 Z" fill="rgb(152,152,152)" filter="url(#bl)"/>
<path d="M88.83,375.71 L96.23,374.31 C97.33,374.31 98.23,375.38 98.23,376.70 C98.23,378.02 97.33,379.09 96.23,379.09 L88.83,380.49 C87.73,380.49 86.83,379.42 86.83,378.10 C86.83,376.78 87.73,375.71 88.83,375.71 Z" fill="rgb(147,147,147)" filter="url(#bl)"/>
<path d="M88.70,412.91 L96.10,411.51 C97.20,411.51 98.10,412.58 98.10,413.90 C98.10,415.22 97.20,416.29 96.10,416.29 L88.70,417.69 C87.60,417.69 86.70,416.62 86.70,415.30 C86.70,413.98 87.60,412.91 88.70,412.91 Z" fill="rgb(48,48,48)" filter="url(#bl)"/>
<path d="M88.51,468.97 L95.91,467.57 C97.01,467.57 97.91,468.71 97.91,470.10 C97.91,471.49 97.01,472.63 95.91,472.63 L88.51,474.03 C87.41,474.03 86.51,472.89 86.51,471.50 C86.51,470.11 87.41,468.97 88.51,468.97 Z" fill="rgb(40,40,40)" filter="url(#bl)"/>
<path d="M88.46,483.71 L95.86,482.31 C96.96,482.31 97.86,483.38 97.86,484.70 C97.86,486.02 96.96,487.09 95.86,487.09 L88.46,488.49 C87.36,488.49 86.46,487.42 86.46,486.10 C86.46,484.78 87.36,483.71 88.46,483.71 Z" fill="rgb(147,147,147)" filter="url(#bl)"/>
<path d="M100.85,327.91 L108.85,326.51 C109.95,326.51 110.85,327.58 110.85,328.90 C110.85,330.22 109.95,331.29 108.85,331.29 L100.85,332.69 C99.75,332.69 98.85,331.62 98.85,330.30 C98.85,328.98 99.75,327.91 100.85,327.91 Z" fill="rgb(48,48,48)" filter="url(#bl)"/>
<path d="M100.92,347.71 L108.92,346.31 C110.02,346.31 110.92,347.38 110.92,348.70 C110.92,350.02 110.02,351.09 108.92,351.09 L100.92,352.49 C99.82,352.49 98.92,351.42 98.92,350.10 C98.92,348.78 99.82,347.71 100.92,347.71 Z" fill="rgb(48,48,48)" filter="url(#bl)"/>
<path d="M100.95,356.41 L108.95,355.01 C110.05,355.01 110.95,356.08 110.95,357.40 C110.95,358.72 110.05,359.79 108.95,359.79 L100.95,361.19 C99.85,361.19 98.95,360.12 98.95,358.80 C98.95,357.48 99.85,356.41 100.95,356.41 Z" fill="rgb(48,48,48)" filter="url(#bl)"/>
<path d="M100.99,365.75 L108.99,364.35 C110.09,364.35 110.99,366.53 110.99,369.20 C110.99,371.87 110.09,374.05 108.99,374.05 L100.99,375.45 C99.89,375.45 98.99,373.27 98.99,370.60 C98.99,367.93 99.89,365.75 100.99,365.75 Z" fill="rgb(34,34,34)" filter="url(#bl)"/>
<path d="M101.03,379.61 L109.03,378.21 C110.13,378.21 111.03,379.28 111.03,380.60 C111.03,381.92 110.13,382.99 109.03,382.99 L101.03,384.39 C99.93,384.39 99.03,383.32 99.03,382.00 C99.03,380.68 99.93,379.61 101.03,379.61 Z" fill="rgb(152,152,152)" filter="url(#bl)"/>
<path d="M101.08,395.41 L109.08,394.01 C110.18,394.01 111.08,395.08 111.08,396.40 C111.08,397.72 110.18,398.79 109.08,398.79 L101.08,400.19 C99.98,400.19 99.08,399.12 99.08,397.80 C99.08,396.48 99.98,395.41 101.08,395.41 Z" fill="rgb(152,152,152)" filter="url(#bl)"/>
<path d="M101.21,430.04 L109.21,428.64 C110.31,428.64 111.21,430.02 111.21,431.70 C111.21,433.38 110.31,434.76 109.21,434.76 L101.21,436.16 C100.11,436.16 99.21,434.78 99.21,433.10 C99.21,431.42 100.11,430.04 101.21,430.04 Z" fill="rgb(40,40,40)" filter="url(#bl)"/>
<path d="M101.32,462.47 L109.32,461.07 C110.42,461.07 111.32,462.21 111.32,463.60 C111.32,464.99 110.42,466.13 109.32,466.13 L101.32,467.53 C100.22,467.53 99.32,466.39 99.32,465.00 C99.32,463.61 100.22,462.47 101.32,462.47 Z" fill="rgb(40,40,40)" filter="url(#bl)"/>
<path d="M101.39,483.21 L109.39,481.81 C110.49,481.81 111.39,482.88 111.39,484.20 C111.39,485.52 110.49,486.59 109.39,486.59 L101.39,487.99 C100.29,487.99 99.39,486.92 99.39,485.60 C99.39,484.28 100.29,483.21 101.39,483.21 Z" fill="rgb(129,129,129)" filter="url(#bl)"/>
<path d="M127.45,410.77 L133.15,409.77 C134.19,409.77 135.05,410.46 135.05,411.30 C135.05,412.14 134.19,412.83 133.15,412.83 L127.45,413.83 C126.41,413.83 125.55,413.14 125.55,412.30 C125.55,411.46 126.41,410.77 127.45,410.77 Z" fill="rgb(152,152,152)" filter="url(#bl)"/>
<path d="M127.45,423.37 L133.15,422.37 C134.19,422.37 135.05,423.06 135.05,423.90 C135.05,424.74 134.19,425.43 133.15,425.43 L127.45,426.43 C126.41,426.43 125.55,425.74 125.55,424.90 C125.55,424.06 126.41,423.37 127.45,423.37 Z" fill="rgb(120,120,120)" filter="url(#bl)"/>
<path d="M127.45,429.87 L133.15,428.87 C134.19,428.87 135.05,429.56 135.05,430.40 C135.05,431.24 134.19,431.93 133.15,431.93 L127.45,432.93 C126.41,432.93 125.55,432.24 125.55,431.40 C125.55,430.56 126.41,429.87 127.45,429.87 Z" fill="rgb(152,152,152)" filter="url(#bl)"/>
<path d="M139.85,410.70 L146.35,409.70 C147.45,409.70 148.35,410.42 148.35,411.30 C148.35,412.18 147.45,412.90 146.35,412.90 L139.85,413.90 C138.75,413.90 137.85,413.18 137.85,412.30 C137.85,411.42 138.75,410.70 139.85,410.70 Z" fill="rgb(152,152,152)" filter="url(#bl)"/>
<path d="M139.85,423.30 L146.35,422.30 C147.45,422.30 148.35,423.02 148.35,423.90 C148.35,424.78 147.45,425.50 146.35,425.50 L139.85,426.50 C138.75,426.50 137.85,425.78 137.85,424.90 C137.85,424.02 138.75,423.30 139.85,423.30 Z" fill="rgb(77,77,77)" filter="url(#bl)"/>
<path d="M139.85,429.50 L146.35,428.50 C147.45,428.50 148.35,429.22 148.35,430.10 C148.35,430.98 147.45,431.70 146.35,431.70 L139.85,432.70 C138.75,432.70 137.85,431.98 137.85,431.10 C137.85,430.22 138.75,429.50 139.85,429.50 Z" fill="rgb(51,51,51)" filter="url(#bl)"/>
<path d="M152.25,403.40 L158.75,402.40 C159.85,402.40 160.75,403.12 160.75,404.00 C160.75,404.88 159.85,405.60 158.75,405.60 L152.25,406.60 C151.15,406.60 150.25,405.88 150.25,405.00 C150.25,404.12 151.15,403.40 152.25,403.40 Z" fill="rgb(158,158,158)" filter="url(#bl)"/>
<path d="M152.25,410.00 L158.75,409.00 C159.85,409.00 160.75,409.72 160.75,410.60 C160.75,411.48 159.85,412.20 158.75,412.20 L152.25,413.20 C151.15,413.20 150.25,412.48 150.25,411.60 C150.25,410.72 151.15,410.00 152.25,410.00 Z" fill="rgb(43,43,43)" filter="url(#bl)"/>
<path d="M152.25,416.40 L158.75,415.40 C159.85,415.40 160.75,416.12 160.75,417.00 C160.75,417.88 159.85,418.60 158.75,418.60 L152.25,419.60 C151.15,419.60 150.25,418.88 150.25,418.00 C150.25,417.12 151.15,416.40 152.25,416.40 Z" fill="rgb(123,123,123)" filter="url(#bl)"/>
<path d="M152.25,423.30 L158.75,422.30 C159.85,422.30 160.75,423.02 160.75,423.90 C160.75,424.78 159.85,425.50 158.75,425.50 L152.25,426.50 C151.15,426.50 150.25,425.78 150.25,424.90 C150.25,424.02 151.15,423.30 152.25,423.30 Z" fill="rgb(141,141,141)" filter="url(#bl)"/>
<path d="M152.25,429.50 L158.75,428.50 C159.85,428.50 160.75,429.22 160.75,430.10 C160.75,430.98 159.85,431.70 158.75,431.70 L152.25,432.70 C151.15,432.70 150.25,431.98 150.25,431.10 C150.25,430.22 151.15,429.50 152.25,429.50 Z" fill="rgb(147,147,147)" filter="url(#bl)"/>
<path d="M152.25,440.90 L158.75,439.90 C159.85,439.90 160.75,440.62 160.75,441.50 C160.75,442.38 159.85,443.10 158.75,443.10 L152.25,444.10 C151.15,444.10 150.25,443.38 150.25,442.50 C150.25,441.62 151.15,440.90 152.25,440.90 Z" fill="rgb(156,156,156)" filter="url(#bl)"/>
<path d="M164.35,410.00 L170.85,409.00 C171.95,409.00 172.85,409.72 172.85,410.60 C172.85,411.48 171.95,412.20 170.85,412.20 L164.35,413.20 C163.25,413.20 162.35,412.48 162.35,411.60 C162.35,410.72 163.25,410.00 164.35,410.00 Z" fill="rgb(43,43,43)" filter="url(#bl)"/>
<path d="M164.35,416.40 L170.85,415.40 C171.95,415.40 172.85,416.12 172.85,417.00 C172.85,417.88 171.95,418.60 170.85,418.60 L164.35,419.60 C163.25,419.60 162.35,418.88 162.35,418.00 C162.35,417.12 163.25,416.40 164.35,416.40 Z" fill="rgb(145,145,145)" filter="url(#bl)"/>
<path d="M164.35,423.30 L170.85,422.30 C171.95,422.30 172.85,423.02 172.85,423.90 C172.85,424.78 171.95,425.50 170.85,425.50 L164.35,426.50 C163.25,426.50 162.35,425.78 162.35,424.90 C162.35,424.02 163.25,423.30 164.35,423.30 Z" fill="rgb(149,149,149)" filter="url(#bl)"/>
<path d="M164.35,429.50 L170.85,428.50 C171.95,428.50 172.85,429.22 172.85,430.10 C172.85,430.98 171.95,431.70 170.85,431.70 L164.35,432.70 C163.25,432.70 162.35,431.98 162.35,431.10 C162.35,430.22 163.25,429.50 164.35,429.50 Z" fill="rgb(152,152,152)" filter="url(#bl)"/>
</g>
<rect x="50.2" y="329.0" width="139.40" height="173.20" fill="none" stroke="#6a6a6a" stroke-width="1"/>
<clipPath id="clip50"><rect x="50.2" y="329.0" width="139.40" height="173.20"/></clipPath>
<rect x="262.3" y="329.2" width="139.60" height="173.30" fill="#a3a3a3"/>
<rect x="269.80" y="329.20" width="10.00" height="173.30" fill="rgba(0,0,0,0.03)" filter="url(#lane)"/>
<rect x="281.30" y="329.20" width="10.00" height="173.30" fill="rgba(0,0,0,0.03)" filter="url(#lane)"/>
<rect x="293.55" y="329.20" width="8.50" height="173.30" fill="rgba(0,0,0,0.03)" filter="url(#lane)"/>
<rect x="305.00" y="329.20" width="10.00" height="173.30" fill="rgba(0,0,0,0.03)" filter="url(#lane)"/>
<rect x="317.50" y="329.20" width="11.00" height="173.30" fill="rgba(0,0,0,0.03)" filter="url(#lane)"/>
<rect x="330.20" y="329.20" width="10.00" height="173.30" fill="rgba(0,0,0,0.03)" filter="url(#lane)"/>
<rect x="342.70" y="329.20" width="12.00" height="173.30" fill="rgba(0,0,0,0.03)" filter="url(#lane)"/>
<rect x="354.50" y="329.20" width="9.00" height="173.30" fill="rgba(0,0,0,0.03)" filter="url(#lane)"/>
<rect x="366.55" y="329.20" width="11.50" height="173.30" fill="rgba(0,0,0,0.03)" filter="url(#lane)"/>
<g clip-path="url(#clip262)">
<path d="M272.32,332.14 L278.08,330.94 C279.14,330.94 280.00,331.69 280.00,332.60 C280.00,333.51 279.14,334.26 278.08,334.26 L272.32,335.46 C271.26,335.46 270.40,334.71 270.40,333.80 C270.40,332.89 271.26,332.14 272.32,332.14 Z" fill="rgb(48,48,48)" filter="url(#bl3)"/>
<path d="M272.32,336.54 L278.08,335.34 C279.14,335.34 280.00,336.09 280.00,337.00 C280.00,337.91 279.14,338.66 278.08,338.66 L272.32,339.86 C271.26,339.86 270.40,339.11 270.40,338.20 C270.40,337.29 271.26,336.54 272.32,336.54 Z" fill="rgb(152,152,152)" filter="url(#bl3)"/>
<path d="M272.32,360.14 L278.08,358.94 C279.14,358.94 280.00,359.69 280.00,360.60 C280.00,361.51 279.14,362.26 278.08,362.26 L272.32,363.46 C271.26,363.46 270.40,362.71 270.40,361.80 C270.40,360.89 271.26,360.14 272.32,360.14 Z" fill="rgb(95,95,95)" filter="url(#bl3)"/>
<path d="M272.32,365.17 L278.08,363.97 C279.14,363.97 280.00,364.84 280.00,365.90 C280.00,366.96 279.14,367.83 278.08,367.83 L272.32,369.03 C271.26,369.03 270.40,368.16 270.40,367.10 C270.40,366.04 271.26,365.17 272.32,365.17 Z" fill="rgb(40,40,40)" filter="url(#bl3)"/>
<path d="M272.32,376.24 L278.08,375.04 C279.14,375.04 280.00,375.79 280.00,376.70 C280.00,377.61 279.14,378.36 278.08,378.36 L272.32,379.56 C271.26,379.56 270.40,378.81 270.40,377.90 C270.40,376.99 271.26,376.24 272.32,376.24 Z" fill="rgb(48,48,48)" filter="url(#bl3)"/>
<path d="M272.32,387.64 L278.08,386.44 C279.14,386.44 280.00,387.19 280.00,388.10 C280.00,389.01 279.14,389.76 278.08,389.76 L272.32,390.96 C271.26,390.96 270.40,390.21 270.40,389.30 C270.40,388.39 271.26,387.64 272.32,387.64 Z" fill="rgb(102,102,102)" filter="url(#bl3)"/>
<path d="M272.32,424.91 L278.08,423.70 C279.14,423.70 280.00,424.60 280.00,425.70 C280.00,426.80 279.14,427.69 278.08,427.69 L272.32,428.90 C271.26,428.90 270.40,428.00 270.40,426.90 C270.40,425.80 271.26,424.91 272.32,424.91 Z" fill="rgb(40,40,40)" filter="url(#bl3)"/>
<path d="M272.32,490.41 L278.08,489.20 C279.14,489.20 280.00,490.10 280.00,491.20 C280.00,492.30 279.14,493.19 278.08,493.19 L272.32,494.40 C271.26,494.40 270.40,493.50 270.40,492.40 C270.40,491.30 271.26,490.41 272.32,490.41 Z" fill="rgb(40,40,40)" filter="url(#bl3)"/>
<path d="M283.56,336.14 L289.44,334.94 C290.52,334.94 291.40,335.69 291.40,336.60 C291.40,337.51 290.52,338.26 289.44,338.26 L283.56,339.46 C282.48,339.46 281.60,338.71 281.60,337.80 C281.60,336.89 282.48,336.14 283.56,336.14 Z" fill="rgb(48,48,48)" filter="url(#bl3)"/>
<path d="M283.56,345.74 L289.44,344.54 C290.52,344.54 291.40,345.29 291.40,346.20 C291.40,347.11 290.52,347.86 289.44,347.86 L283.56,349.06 C282.48,349.06 281.60,348.31 281.60,347.40 C281.60,346.49 282.48,345.74 283.56,345.74 Z" fill="rgb(64,64,64)" filter="url(#bl3)"/>
<path d="M283.56,349.94 L289.44,348.74 C290.52,348.74 291.40,349.49 291.40,350.40 C291.40,351.31 290.52,352.06 289.44,352.06 L283.56,353.26 C282.48,353.26 281.60,352.51 281.60,351.60 C281.60,350.69 282.48,349.94 283.56,349.94 Z" fill="rgb(147,147,147)" filter="url(#bl3)"/>
<path d="M283.56,382.24 L289.44,381.04 C290.52,381.04 291.40,381.79 291.40,382.70 C291.40,383.61 290.52,384.36 289.44,384.36 L283.56,385.56 C282.48,385.56 281.60,384.81 281.60,383.90 C281.60,382.99 282.48,382.24 283.56,382.24 Z" fill="rgb(56,56,56)" filter="url(#bl3)"/>
<path d="M283.56,412.74 L289.44,411.54 C290.52,411.54 291.40,412.29 291.40,413.20 C291.40,414.11 290.52,414.86 289.44,414.86 L283.56,416.06 C282.48,416.06 281.60,415.31 281.60,414.40 C281.60,413.49 282.48,412.74 283.56,412.74 Z" fill="rgb(40,40,40)" filter="url(#bl3)"/>
<path d="M283.56,419.04 L289.44,417.84 C290.52,417.84 291.40,418.59 291.40,419.50 C291.40,420.41 290.52,421.16 289.44,421.16 L283.56,422.36 C282.48,422.36 281.60,421.61 281.60,420.70 C281.60,419.79 282.48,419.04 283.56,419.04 Z" fill="rgb(72,72,72)" filter="url(#bl3)"/>
<path d="M283.56,432.74 L289.44,431.54 C290.52,431.54 291.40,432.29 291.40,433.20 C291.40,434.11 290.52,434.86 289.44,434.86 L283.56,436.06 C282.48,436.06 281.60,435.31 281.60,434.40 C281.60,433.49 282.48,432.74 283.56,432.74 Z" fill="rgb(40,40,40)" filter="url(#bl3)"/>
<path d="M283.56,438.94 L289.44,437.74 C290.52,437.74 291.40,438.49 291.40,439.40 C291.40,440.31 290.52,441.06 289.44,441.06 L283.56,442.26 C282.48,442.26 281.60,441.51 281.60,440.60 C281.60,439.69 282.48,438.94 283.56,438.94 Z" fill="rgb(80,80,80)" filter="url(#bl3)"/>
<path d="M283.56,453.04 L289.44,451.84 C290.52,451.84 291.40,452.59 291.40,453.50 C291.40,454.41 290.52,455.16 289.44,455.16 L283.56,456.36 C282.48,456.36 281.60,455.61 281.60,454.70 C281.60,453.79 282.48,453.04 283.56,453.04 Z" fill="rgb(40,40,40)" filter="url(#bl3)"/>
<path d="M283.56,460.34 L289.44,459.14 C290.52,459.14 291.40,459.89 291.40,460.80 C291.40,461.71 290.52,462.46 289.44,462.46 L283.56,463.66 C282.48,463.66 281.60,462.91 281.60,462.00 C281.60,461.09 282.48,460.34 283.56,460.34 Z" fill="rgb(48,48,48)" filter="url(#bl3)"/>
<path d="M283.56,482.84 L289.44,481.64 C290.52,481.64 291.40,482.39 291.40,483.30 C291.40,484.21 290.52,484.96 289.44,484.96 L283.56,486.16 C282.48,486.16 281.60,485.41 281.60,484.50 C281.60,483.59 282.48,482.84 283.56,482.84 Z" fill="rgb(48,48,48)" filter="url(#bl3)"/>
<path d="M283.56,489.94 L289.44,488.74 C290.52,488.74 291.40,489.49 291.40,490.40 C291.40,491.31 290.52,492.06 289.44,492.06 L283.56,493.26 C282.48,493.26 281.60,492.51 281.60,491.60 C281.60,490.69 282.48,489.94 283.56,489.94 Z" fill="rgb(147,147,147)" filter="url(#bl3)"/>
<path d="M295.16,336.54 L300.44,335.34 C301.41,335.34 302.20,336.09 302.20,337.00 C302.20,337.91 301.41,338.66 300.44,338.66 L295.16,339.86 C294.19,339.86 293.40,339.11 293.40,338.20 C293.40,337.29 294.19,336.54 295.16,336.54 Z" fill="rgb(155,155,155)" filter="url(#bl3)"/>
<path d="M295.16,394.14 L300.44,392.94 C301.41,392.94 302.20,393.69 302.20,394.60 C302.20,395.51 301.41,396.26 300.44,396.26 L295.16,397.46 C294.19,397.46 293.40,396.71 293.40,395.80 C293.40,394.89 294.19,394.14 295.16,394.14 Z" fill="rgb(95,95,95)" filter="url(#bl3)"/>
<path d="M306.96,328.54 L312.84,327.34 C313.92,327.34 314.80,328.09 314.80,329.00 C314.80,329.91 313.92,330.66 312.84,330.66 L306.96,331.86 C305.88,331.86 305.00,331.11 305.00,330.20 C305.00,329.29 305.88,328.54 306.96,328.54 Z" fill="rgb(48,48,48)" filter="url(#bl3)"/>
<path d="M306.96,342.24 L312.84,341.04 C313.92,341.04 314.80,341.79 314.80,342.70 C314.80,343.61 313.92,344.36 312.84,344.36 L306.96,345.56 C305.88,345.56 305.00,344.81 305.00,343.90 C305.00,342.99 305.88,342.24 306.96,342.24 Z" fill="rgb(109,109,109)" filter="url(#bl3)"/>
<path d="M306.96,351.14 L312.84,349.94 C313.92,349.94 314.80,350.69 314.80,351.60 C314.80,352.51 313.92,353.26 312.84,353.26 L306.96,354.46 C305.88,354.46 305.00,353.71 305.00,352.80 C305.00,351.89 305.88,351.14 306.96,351.14 Z" fill="rgb(40,40,40)" filter="url(#bl3)"/>
<path d="M306.96,355.64 L312.84,354.44 C313.92,354.44 314.80,355.19 314.80,356.10 C314.80,357.01 313.92,357.76 312.84,357.76 L306.96,358.96 C305.88,358.96 305.00,358.21 305.00,357.30 C305.00,356.39 305.88,355.64 306.96,355.64 Z" fill="rgb(48,48,48)" filter="url(#bl3)"/>
<path d="M306.96,371.94 L312.84,370.74 C313.92,370.74 314.80,371.49 314.80,372.40 C314.80,373.31 313.92,374.06 312.84,374.06 L306.96,375.26 C305.88,375.26 305.00,374.51 305.00,373.60 C305.00,372.69 305.88,371.94 306.96,371.94 Z" fill="rgb(48,48,48)" filter="url(#bl3)"/>
<path d="M306.96,401.14 L312.84,399.94 C313.92,399.94 314.80,400.78 314.80,401.80 C314.80,402.82 313.92,403.66 312.84,403.66 L306.96,404.86 C305.88,404.86 305.00,404.02 305.00,403.00 C305.00,401.98 305.88,401.14 306.96,401.14 Z" fill="rgb(40,40,40)" filter="url(#bl3)"/>
<path d="M306.96,406.54 L312.84,405.34 C313.92,405.34 314.80,406.18 314.80,407.20 C314.80,408.22 313.92,409.06 312.84,409.06 L306.96,410.26 C305.88,410.26 305.00,409.42 305.00,408.40 C305.00,407.38 305.88,406.54 306.96,406.54 Z" fill="rgb(40,40,40)" filter="url(#bl3)"/>
<path d="M306.96,446.74 L312.84,445.54 C313.92,445.54 314.80,446.29 314.80,447.20 C314.80,448.11 313.92,448.86 312.84,448.86 L306.96,450.06 C305.88,450.06 305.00,449.31 305.00,448.40 C305.00,447.49 305.88,446.74 306.96,446.74 Z" fill="rgb(40,40,40)" filter="url(#bl3)"/>
<path d="M306.96,468.74 L312.84,467.54 C313.92,467.54 314.80,468.29 314.80,469.20 C314.80,470.11 313.92,470.86 312.84,470.86 L306.96,472.06 C305.88,472.06 305.00,471.31 305.00,470.40 C305.00,469.49 305.88,468.74 306.96,468.74 Z" fill="rgb(40,40,40)" filter="url(#bl3)"/>
<path d="M306.96,475.74 L312.84,474.54 C313.92,474.54 314.80,475.29 314.80,476.20 C314.80,477.11 313.92,477.86 312.84,477.86 L306.96,479.06 C305.88,479.06 305.00,478.31 305.00,477.40 C305.00,476.49 305.88,475.74 306.96,475.74 Z" fill="rgb(48,48,48)" filter="url(#bl3)"/>
<path d="M306.96,499.74 L312.84,498.54 C313.92,498.54 314.80,499.29 314.80,500.20 C314.80,501.11 313.92,501.86 312.84,501.86 L306.96,503.06 C305.88,503.06 305.00,502.31 305.00,501.40 C305.00,500.49 305.88,499.74 306.96,499.74 Z" fill="rgb(40,40,40)" filter="url(#bl3)"/>
<path d="M319.50,415.19 L326.50,414.89 C327.60,414.89 328.50,415.64 328.50,416.55 C328.50,417.46 327.60,418.21 326.50,418.21 L319.50,418.51 C318.40,418.51 317.50,417.76 317.50,416.85 C317.50,415.94 318.40,415.19 319.50,415.19 Z" fill="rgb(56,56,56)" filter="url(#bl3)"/>
<path d="M319.50,422.29 L326.50,421.99 C327.60,421.99 328.50,422.74 328.50,423.65 C328.50,424.56 327.60,425.31 326.50,425.31 L319.50,425.61 C318.40,425.61 317.50,424.86 317.50,423.95 C317.50,423.04 318.40,422.29 319.50,422.29 Z" fill="rgb(135,135,135)" filter="url(#bl3)"/>
<path d="M319.50,484.69 L326.50,484.39 C327.60,484.39 328.50,485.14 328.50,486.05 C328.50,486.96 327.60,487.71 326.50,487.71 L319.50,488.01 C318.40,488.01 317.50,487.26 317.50,486.35 C317.50,485.44 318.40,484.69 319.50,484.69 Z" fill="rgb(155,155,155)" filter="url(#bl3)"/>
<path d="M332.32,415.69 L338.08,415.39 C339.14,415.39 340.00,416.14 340.00,417.05 C340.00,417.96 339.14,418.71 338.08,418.71 L332.32,419.01 C331.26,419.01 330.40,418.26 330.40,417.35 C330.40,416.44 331.26,415.69 332.32,415.69 Z" fill="rgb(155,155,155)" filter="url(#bl3)"/>
<path d="M332.32,428.69 L338.08,428.39 C339.14,428.39 340.00,429.14 340.00,430.05 C340.00,430.96 339.14,431.71 338.08,431.71 L332.32,432.01 C331.26,432.01 330.40,431.26 330.40,430.35 C330.40,429.44 331.26,428.69 332.32,428.69 Z" fill="rgb(141,141,141)" filter="url(#bl3)"/>
<path d="M332.32,434.99 L338.08,434.69 C339.14,434.69 340.00,435.44 340.00,436.35 C340.00,437.26 339.14,438.01 338.08,438.01 L332.32,438.31 C331.26,438.31 330.40,437.56 330.40,436.65 C330.40,435.74 331.26,434.99 332.32,434.99 Z" fill="rgb(120,120,120)" filter="url(#bl3)"/>
<path d="M332.32,441.99 L338.08,441.69 C339.14,441.69 340.00,442.44 340.00,443.35 C340.00,444.26 339.14,445.01 338.08,445.01 L332.32,445.31 C331.26,445.31 330.40,444.56 330.40,443.65 C330.40,442.74 331.26,441.99 332.32,441.99 Z" fill="rgb(147,147,147)" filter="url(#bl3)"/>
<path d="M332.32,449.09 L338.08,448.79 C339.14,448.79 340.00,449.54 340.00,450.45 C340.00,451.36 339.14,452.11 338.08,452.11 L332.32,452.41 C331.26,452.41 330.40,451.66 330.40,450.75 C330.40,449.84 331.26,449.09 332.32,449.09 Z" fill="rgb(138,138,138)" filter="url(#bl3)"/>
<path d="M332.32,456.29 L338.08,455.99 C339.14,455.99 340.00,456.74 340.00,457.65 C340.00,458.56 339.14,459.31 338.08,459.31 L332.32,459.61 C331.26,459.61 330.40,458.86 330.40,457.95 C330.40,457.04 331.26,456.29 332.32,456.29 Z" fill="rgb(138,138,138)" filter="url(#bl3)"/>
<path d="M332.32,463.49 L338.08,463.19 C339.14,463.19 340.00,463.94 340.00,464.85 C340.00,465.76 339.14,466.51 338.08,466.51 L332.32,466.81 C331.26,466.81 330.40,466.06 330.40,465.15 C330.40,464.24 331.26,463.49 332.32,463.49 Z" fill="rgb(155,155,155)" filter="url(#bl3)"/>
<path d="M332.32,473.49 L338.08,473.19 C339.14,473.19 340.00,473.94 340.00,474.85 C340.00,475.76 339.14,476.51 338.08,476.51 L332.32,476.81 C331.26,476.81 330.40,476.06 330.40,475.15 C330.40,474.24 331.26,473.49 332.32,473.49 Z" fill="rgb(155,155,155)" filter="url(#bl3)"/>
<path d="M332.32,485.49 L338.08,485.19 C339.14,485.19 340.00,485.94 340.00,486.85 C340.00,487.76 339.14,488.51 338.08,488.51 L332.32,488.81 C331.26,488.81 330.40,488.06 330.40,487.15 C330.40,486.24 331.26,485.49 332.32,485.49 Z" fill="rgb(155,155,155)" filter="url(#bl3)"/>
<path d="M344.70,370.39 L351.10,370.09 C352.20,370.09 353.10,370.84 353.10,371.75 C353.10,372.66 352.20,373.41 351.10,373.41 L344.70,373.71 C343.60,373.71 342.70,372.96 342.70,372.05 C342.70,371.14 343.60,370.39 344.70,370.39 Z" fill="rgb(116,116,116)" filter="url(#bl3)"/>
<path d="M344.70,380.79 L351.10,380.49 C352.20,380.49 353.10,381.24 353.10,382.15 C353.10,383.06 352.20,383.81 351.10,383.81 L344.70,384.11 C343.60,384.11 342.70,383.36 342.70,382.45 C342.70,381.54 343.60,380.79 344.70,380.79 Z" fill="rgb(152,152,152)" filter="url(#bl3)"/>
<path d="M344.70,385.29 L351.10,384.99 C352.20,384.99 353.10,385.74 353.10,386.65 C353.10,387.56 352.20,388.31 351.10,388.31 L344.70,388.61 C343.60,388.61 342.70,387.86 342.70,386.95 C342.70,386.04 343.60,385.29 344.70,385.29 Z" fill="rgb(147,147,147)" filter="url(#bl3)"/>
<path d="M344.70,399.19 L351.10,398.89 C352.20,398.89 353.10,399.64 353.10,400.55 C353.10,401.46 352.20,402.21 351.10,402.21 L344.70,402.51 C343.60,402.51 342.70,401.76 342.70,400.85 C342.70,399.94 343.60,399.19 344.70,399.19 Z" fill="rgb(155,155,155)" filter="url(#bl3)"/>
<path d="M344.70,429.89 L351.10,429.59 C352.20,429.59 353.10,430.43 353.10,431.45 C353.10,432.47 352.20,433.31 351.10,433.31 L344.70,433.61 C343.60,433.61 342.70,432.77 342.70,431.75 C342.70,430.73 343.60,429.89 344.70,429.89 Z" fill="rgb(40,40,40)" filter="url(#bl3)"/>
<path d="M344.45,434.93 L352.95,434.63 C354.05,434.63 354.95,436.12 354.95,437.95 C354.95,439.78 354.05,441.28 352.95,441.28 L344.45,441.57 C343.35,441.57 342.45,440.08 342.45,438.25 C342.45,436.42 343.35,434.93 344.45,434.93 Z" fill="rgb(33,33,33)" filter="url(#bl3)"/>
<path d="M344.70,442.89 L351.10,442.59 C352.20,442.59 353.10,443.43 353.10,444.45 C353.10,445.47 352.20,446.31 351.10,446.31 L344.70,446.61 C343.60,446.61 342.70,445.77 342.70,444.75 C342.70,443.73 343.60,442.89 344.70,442.89 Z" fill="rgb(48,48,48)" filter="url(#bl3)"/>
<path d="M344.70,450.19 L351.10,449.89 C352.20,449.89 353.10,450.64 353.10,451.55 C353.10,452.46 352.20,453.21 351.10,453.21 L344.70,453.51 C343.60,453.51 342.70,452.76 342.70,451.85 C342.70,450.94 343.60,450.19 344.70,450.19 Z" fill="rgb(116,116,116)" filter="url(#bl3)"/>
<path d="M344.70,456.29 L351.10,455.99 C352.20,455.99 353.10,456.74 353.10,457.65 C353.10,458.56 352.20,459.31 351.10,459.31 L344.70,459.61 C343.60,459.61 342.70,458.86 342.70,457.95 C342.70,457.04 343.60,456.29 344.70,456.29 Z" fill="rgb(120,120,120)" filter="url(#bl3)"/>
<path d="M344.70,463.49 L351.10,463.19 C352.20,463.19 353.10,463.94 353.10,464.85 C353.10,465.76 352.20,466.51 351.10,466.51 L344.70,466.81 C343.60,466.81 342.70,466.06 342.70,465.15 C342.70,464.24 343.60,463.49 344.70,463.49 Z" fill="rgb(123,123,123)" filter="url(#bl3)"/>
<path d="M344.70,471.69 L351.10,471.39 C352.20,471.39 353.10,472.14 353.10,473.05 C353.10,473.96 352.20,474.71 351.10,474.71 L344.70,475.01 C343.60,475.01 342.70,474.26 342.70,473.35 C342.70,472.44 343.60,471.69 344.70,471.69 Z" fill="rgb(120,120,120)" filter="url(#bl3)"/>
<path d="M344.70,480.29 L351.10,479.99 C352.20,479.99 353.10,480.74 353.10,481.65 C353.10,482.56 352.20,483.31 351.10,483.31 L344.70,483.61 C343.60,483.61 342.70,482.86 342.70,481.95 C342.70,481.04 343.60,480.29 344.70,480.29 Z" fill="rgb(120,120,120)" filter="url(#bl3)"/>
<path d="M344.70,487.39 L351.10,487.09 C352.20,487.09 353.10,487.84 353.10,488.75 C353.10,489.66 352.20,490.41 351.10,490.41 L344.70,490.71 C343.60,490.71 342.70,489.96 342.70,489.05 C342.70,488.14 343.60,487.39 344.70,487.39 Z" fill="rgb(120,120,120)" filter="url(#bl3)"/>
<path d="M344.70,495.69 L351.10,495.39 C352.20,495.39 353.10,496.14 353.10,497.05 C353.10,497.96 352.20,498.71 351.10,498.71 L344.70,499.01 C343.60,499.01 342.70,498.26 342.70,497.35 C342.70,496.44 343.60,495.69 344.70,495.69 Z" fill="rgb(116,116,116)" filter="url(#bl3)"/>
<path d="M356.30,370.39 L361.70,370.09 C362.69,370.09 363.50,370.84 363.50,371.75 C363.50,372.66 362.69,373.41 361.70,373.41 L356.30,373.71 C355.31,373.71 354.50,372.96 354.50,372.05 C354.50,371.14 355.31,370.39 356.30,370.39 Z" fill="rgb(149,149,149)" filter="url(#bl3)"/>
<path d="M356.30,386.49 L361.70,386.19 C362.69,386.19 363.50,386.94 363.50,387.85 C363.50,388.76 362.69,389.51 361.70,389.51 L356.30,389.81 C355.31,389.81 354.50,389.06 354.50,388.15 C354.50,387.24 355.31,386.49 356.30,386.49 Z" fill="rgb(152,152,152)" filter="url(#bl3)"/>
<path d="M356.30,424.09 L361.70,423.79 C362.69,423.79 363.50,424.54 363.50,425.45 C363.50,426.36 362.69,427.11 361.70,427.11 L356.30,427.41 C355.31,427.41 354.50,426.66 354.50,425.75 C354.50,424.84 355.31,424.09 356.30,424.09 Z" fill="rgb(152,152,152)" filter="url(#bl3)"/>
<path d="M356.30,459.19 L361.70,458.89 C362.69,458.89 363.50,459.64 363.50,460.55 C363.50,461.46 362.69,462.21 361.70,462.21 L356.30,462.51 C355.31,462.51 354.50,461.76 354.50,460.85 C354.50,459.94 355.31,459.19 356.30,459.19 Z" fill="rgb(156,156,156)" filter="url(#bl3)"/>
<path d="M368.80,387.09 L375.80,386.79 C376.90,386.79 377.80,387.54 377.80,388.45 C377.80,389.36 376.90,390.11 375.80,390.11 L368.80,390.41 C367.70,390.41 366.80,389.66 366.80,388.75 C366.80,387.84 367.70,387.09 368.80,387.09 Z" fill="rgb(152,152,152)" filter="url(#bl3)"/>
<path d="M368.80,419.39 L375.80,419.09 C376.90,419.09 377.80,419.84 377.80,420.75 C377.80,421.66 376.90,422.41 375.80,422.41 L368.80,422.71 C367.70,422.71 366.80,421.96 366.80,421.05 C366.80,420.14 367.70,419.39 368.80,419.39 Z" fill="rgb(116,116,116)" filter="url(#bl3)"/>
<path d="M368.30,424.02 L376.30,423.72 C377.40,423.72 378.30,425.04 378.30,426.65 C378.30,428.26 377.40,429.58 376.30,429.58 L368.30,429.88 C367.20,429.88 366.30,428.56 366.30,426.95 C366.30,425.34 367.20,424.02 368.30,424.02 Z" fill="rgb(33,33,33)" filter="url(#bl3)"/>
<path d="M368.80,432.15 L375.80,431.85 C376.90,431.85 377.80,432.66 377.80,433.65 C377.80,434.64 376.90,435.45 375.80,435.45 L368.80,435.75 C367.70,435.75 366.80,434.94 366.80,433.95 C366.80,432.96 367.70,432.15 368.80,432.15 Z" fill="rgb(51,51,51)" filter="url(#bl3)"/>
<path d="M368.80,439.49 L375.80,439.19 C376.90,439.19 377.80,439.94 377.80,440.85 C377.80,441.76 376.90,442.51 375.80,442.51 L368.80,442.81 C367.70,442.81 366.80,442.06 366.80,441.15 C366.80,440.24 367.70,439.49 368.80,439.49 Z" fill="rgb(120,120,120)" filter="url(#bl3)"/>
<path d="M368.80,446.49 L375.80,446.19 C376.90,446.19 377.80,446.94 377.80,447.85 C377.80,448.76 376.90,449.51 375.80,449.51 L368.80,449.81 C367.70,449.81 366.80,449.06 366.80,448.15 C366.80,447.24 367.70,446.49 368.80,446.49 Z" fill="rgb(132,132,132)" filter="url(#bl3)"/>
<path d="M368.80,453.79 L375.80,453.49 C376.90,453.49 377.80,454.24 377.80,455.15 C377.80,456.06 376.90,456.81 375.80,456.81 L368.80,457.11 C367.70,457.11 366.80,456.36 366.80,455.45 C366.80,454.54 367.70,453.79 368.80,453.79 Z" fill="rgb(125,125,125)" filter="url(#bl3)"/>
<path d="M368.80,460.09 L375.80,459.79 C376.90,459.79 377.80,460.54 377.80,461.45 C377.80,462.36 376.90,463.11 375.80,463.11 L368.80,463.41 C367.70,463.41 366.80,462.66 366.80,461.75 C366.80,460.84 367.70,460.09 368.80,460.09 Z" fill="rgb(152,152,152)" filter="url(#bl3)"/>
<path d="M368.80,467.69 L375.80,467.39 C376.90,467.39 377.80,468.14 377.80,469.05 C377.80,469.96 376.90,470.71 375.80,470.71 L368.80,471.01 C367.70,471.01 366.80,470.26 366.80,469.35 C366.80,468.44 367.70,467.69 368.80,467.69 Z" fill="rgb(152,152,152)" filter="url(#bl3)"/>
<path d="M368.80,475.29 L375.80,474.99 C376.90,474.99 377.80,475.74 377.80,476.65 C377.80,477.56 376.90,478.31 375.80,478.31 L368.80,478.61 C367.70,478.61 366.80,477.86 366.80,476.95 C366.80,476.04 367.70,475.29 368.80,475.29 Z" fill="rgb(154,154,154)" filter="url(#bl3)"/>
<path d="M368.80,482.89 L375.80,482.59 C376.90,482.59 377.80,483.34 377.80,484.25 C377.80,485.16 376.90,485.91 375.80,485.91 L368.80,486.21 C367.70,486.21 366.80,485.46 366.80,484.55 C366.80,483.64 367.70,482.89 368.80,482.89 Z" fill="rgb(149,149,149)" filter="url(#bl3)"/>
<path d="M368.80,491.09 L375.80,490.79 C376.90,490.79 377.80,491.54 377.80,492.45 C377.80,493.36 376.90,494.11 375.80,494.11 L368.80,494.41 C367.70,494.41 366.80,493.66 366.80,492.75 C366.80,491.84 367.70,491.09 368.80,491.09 Z" fill="rgb(151,151,151)" filter="url(#bl3)"/>
<path d="M368.80,498.19 L375.80,497.89 C376.90,497.89 377.80,498.64 377.80,499.55 C377.80,500.46 376.90,501.21 375.80,501.21 L368.80,501.51 C367.70,501.51 366.80,500.76 366.80,499.85 C366.80,498.94 367.70,498.19 368.80,498.19 Z" fill="rgb(155,155,155)" filter="url(#bl3)"/>
</g>
<rect x="262.3" y="329.2" width="139.60" height="173.30" fill="none" stroke="#6a6a6a" stroke-width="1"/>
<clipPath id="clip262"><rect x="262.3" y="329.2" width="139.60" height="173.30"/></clipPath>
<path d="M179.60,411.60 L184.80,409.40 L184.80,413.80 Z" fill="#fff" stroke="#000" stroke-width="0.8"/>
<path d="M179.60,417.20 L184.80,415.00 L184.80,419.40 Z" fill="#fff" stroke="#000" stroke-width="0.8"/>
<path d="M179.60,424.30 L185.00,421.90 L185.00,426.70 Z" fill="#000" stroke="#000" stroke-width="0.4"/>
<path d="M179.60,430.20 L185.00,427.80 L185.00,432.60 Z" fill="#000" stroke="#000" stroke-width="0.4"/>
<path d="M357.80,432.30 L362.60,430.20 L362.60,434.40 Z" fill="#000" stroke="#000" stroke-width="0.4"/>
<path d="M357.80,438.60 L362.60,436.50 L362.60,440.70 Z" fill="#000" stroke="#000" stroke-width="0.4"/>
<path d="M380.00,421.40 L384.60,419.40 L384.60,423.40 Z" fill="#fff" stroke="#000" stroke-width="0.8"/>
<path d="M380.00,428.00 L384.60,426.00 L384.60,430.00 Z" fill="#fff" stroke="#000" stroke-width="0.8"/>
<path d="M380.00,434.30 L384.80,432.20 L384.80,436.40 Z" fill="#000" stroke="#000" stroke-width="0.4"/>
<text x="50.20" y="292.45" font-size="11.2" fill="#222" font-style="italic" textLength="39.7" lengthAdjust="spacingAndGlyphs">S.a. aur</text>
<text x="262.40" y="292.45" font-size="11.2" fill="#222" font-style="italic" textLength="46" lengthAdjust="spacingAndGlyphs">S.a. rlmB</text>
<text x="128.80" y="291.50" font-size="10.2" fill="#3030ee" font-style="italic" textLength="16.1" lengthAdjust="spacingAndGlyphs">S.a.</text>
<text x="154.90" y="291.50" font-size="10.2" fill="#333" font-style="italic" textLength="16.1" lengthAdjust="spacingAndGlyphs">E.c.</text>
<line x1="127.00" y1="297.40" x2="146.90" y2="297.40" stroke="#3030ee" stroke-width="1.0" />
<line x1="153.20" y1="297.40" x2="173.00" y2="297.40" stroke="#444" stroke-width="1.0" />
<text x="331.70" y="291.50" font-size="10.2" fill="#3030ee" font-style="italic" textLength="16.2" lengthAdjust="spacingAndGlyphs">S.a.</text>
<text x="355.40" y="291.50" font-size="10.2" fill="#333" font-style="italic" textLength="15.8" lengthAdjust="spacingAndGlyphs">E.c.</text>
<line x1="330.20" y1="297.40" x2="349.70" y2="297.40" stroke="#3030ee" stroke-width="1.0" />
<line x1="353.40" y1="297.40" x2="373.50" y2="297.40" stroke="#444" stroke-width="1.0" />
<line x1="114.80" y1="306.70" x2="117.80" y2="306.70" stroke="#555" stroke-width="0.9" />
<line x1="127.90" y1="306.70" x2="132.70" y2="306.70" stroke="#222" stroke-width="0.9" />
<line x1="130.30" y1="304.30" x2="130.30" y2="309.10" stroke="#222" stroke-width="0.9" />
<line x1="141.00" y1="306.70" x2="145.80" y2="306.70" stroke="#222" stroke-width="0.9" />
<line x1="143.40" y1="304.30" x2="143.40" y2="309.10" stroke="#222" stroke-width="0.9" />
<line x1="154.30" y1="306.70" x2="159.10" y2="306.70" stroke="#222" stroke-width="0.9" />
<line x1="156.70" y1="304.30" x2="156.70" y2="309.10" stroke="#222" stroke-width="0.9" />
<line x1="167.80" y1="306.70" x2="172.60" y2="306.70" stroke="#222" stroke-width="0.9" />
<line x1="170.20" y1="304.30" x2="170.20" y2="309.10" stroke="#222" stroke-width="0.9" />
<line x1="114.80" y1="319.50" x2="117.80" y2="319.50" stroke="#555" stroke-width="0.9" />
<line x1="128.80" y1="319.50" x2="131.80" y2="319.50" stroke="#555" stroke-width="0.9" />
<line x1="141.00" y1="319.50" x2="145.80" y2="319.50" stroke="#222" stroke-width="0.9" />
<line x1="143.40" y1="317.10" x2="143.40" y2="321.90" stroke="#222" stroke-width="0.9" />
<line x1="155.20" y1="319.50" x2="158.20" y2="319.50" stroke="#555" stroke-width="0.9" />
<line x1="167.80" y1="319.50" x2="172.60" y2="319.50" stroke="#222" stroke-width="0.9" />
<line x1="170.20" y1="317.10" x2="170.20" y2="321.90" stroke="#222" stroke-width="0.9" />
<text x="183.80" y="309.80" font-size="9.0" fill="#222" textLength="18.4" lengthAdjust="spacingAndGlyphs">70 S</text>
<text x="183.80" y="322.60" font-size="9.0" fill="#222" textLength="13.9" lengthAdjust="spacingAndGlyphs">Ret</text>
<line x1="320.00" y1="306.70" x2="323.00" y2="306.70" stroke="#555" stroke-width="0.9" />
<line x1="331.50" y1="306.70" x2="336.30" y2="306.70" stroke="#222" stroke-width="0.9" />
<line x1="333.90" y1="304.30" x2="333.90" y2="309.10" stroke="#222" stroke-width="0.9" />
<line x1="343.50" y1="306.70" x2="348.30" y2="306.70" stroke="#222" stroke-width="0.9" />
<line x1="345.90" y1="304.30" x2="345.90" y2="309.10" stroke="#222" stroke-width="0.9" />
<line x1="354.50" y1="306.70" x2="359.30" y2="306.70" stroke="#222" stroke-width="0.9" />
<line x1="356.90" y1="304.30" x2="356.90" y2="309.10" stroke="#222" stroke-width="0.9" />
<line x1="366.80" y1="306.70" x2="371.60" y2="306.70" stroke="#222" stroke-width="0.9" />
<line x1="369.20" y1="304.30" x2="369.20" y2="309.10" stroke="#222" stroke-width="0.9" />
<line x1="320.00" y1="319.50" x2="323.00" y2="319.50" stroke="#555" stroke-width="0.9" />
<line x1="332.40" y1="319.50" x2="335.40" y2="319.50" stroke="#555" stroke-width="0.9" />
<line x1="343.50" y1="319.50" x2="348.30" y2="319.50" stroke="#222" stroke-width="0.9" />
<line x1="345.90" y1="317.10" x2="345.90" y2="321.90" stroke="#222" stroke-width="0.9" />
<line x1="355.40" y1="319.50" x2="358.40" y2="319.50" stroke="#555" stroke-width="0.9" />
<line x1="366.80" y1="319.50" x2="371.60" y2="319.50" stroke="#222" stroke-width="0.9" />
<line x1="369.20" y1="317.10" x2="369.20" y2="321.90" stroke="#222" stroke-width="0.9" />
<text x="389.00" y="309.80" font-size="9.0" fill="#222" textLength="18.4" lengthAdjust="spacingAndGlyphs">70 S</text>
<text x="389.00" y="322.60" font-size="9.0" fill="#222" textLength="13.9" lengthAdjust="spacingAndGlyphs">Ret</text>
<text x="65.50" y="322.31" font-size="10.2" text-anchor="middle" fill="#222">A</text>
<text x="77.80" y="322.31" font-size="10.2" text-anchor="middle" fill="#222">U</text>
<text x="91.30" y="322.31" font-size="10.2" text-anchor="middle" fill="#222">C</text>
<text x="104.90" y="322.31" font-size="10.2" text-anchor="middle" fill="#222">G</text>
<text x="274.90" y="322.31" font-size="10.2" text-anchor="middle" fill="#222">A</text>
<text x="286.00" y="322.31" font-size="10.2" text-anchor="middle" fill="#222">U</text>
<text x="297.10" y="322.31" font-size="10.2" text-anchor="middle" fill="#222">C</text>
<text x="308.40" y="322.31" font-size="10.2" text-anchor="middle" fill="#222">G</text>
<text x="38.80" y="327.98" font-size="7.2" text-anchor="middle" fill="#111" font-weight="bold">A</text>
<text x="38.80" y="337.68" font-size="7.2" text-anchor="middle" fill="#111" font-weight="bold">U</text>
<text x="38.80" y="347.28" font-size="7.2" text-anchor="middle" fill="#111" font-weight="bold">G</text>
<text x="38.80" y="356.58" font-size="7.2" text-anchor="middle" fill="#111" font-weight="bold">U</text>
<text x="38.80" y="366.28" font-size="7.2" text-anchor="middle" fill="#111" font-weight="bold">G</text>
<text x="38.80" y="375.58" font-size="7.2" text-anchor="middle" fill="#9a9a9a">A</text>
<text x="38.80" y="384.88" font-size="7.2" text-anchor="middle" fill="#9a9a9a">G</text>
<text x="38.80" y="394.58" font-size="7.2" text-anchor="middle" fill="#9a9a9a">G</text>
<text x="38.80" y="403.98" font-size="7.2" text-anchor="middle" fill="#9a9a9a">A</text>
<text x="38.80" y="413.88" font-size="7.2" text-anchor="middle" fill="#9a9a9a">A</text>
<text x="38.80" y="423.68" font-size="7.2" text-anchor="middle" fill="#9a9a9a">A</text>
<text x="38.80" y="432.88" font-size="7.2" text-anchor="middle" fill="#9a9a9a">U</text>
<text x="38.80" y="442.48" font-size="7.2" text-anchor="middle" fill="#9a9a9a">U</text>
<text x="38.80" y="451.88" font-size="7.2" text-anchor="middle" fill="#9a9a9a">U</text>
<text x="38.80" y="461.78" font-size="7.2" text-anchor="middle" fill="#9a9a9a">U</text>
<text x="38.80" y="470.88" font-size="7.2" text-anchor="middle" fill="#9a9a9a">C</text>
<text x="38.80" y="480.28" font-size="7.2" text-anchor="middle" fill="#9a9a9a">A</text>
<text x="38.80" y="490.18" font-size="7.2" text-anchor="middle" fill="#9a9a9a">A</text>
<text x="38.80" y="499.28" font-size="7.2" text-anchor="middle" fill="#9a9a9a">G</text>
<rect x="38.20" y="299.00" width="1.20" height="1.20" fill="#222" />
<rect x="38.20" y="306.20" width="1.20" height="1.20" fill="#222" />
<rect x="38.20" y="313.00" width="1.20" height="1.20" fill="#222" />
<rect x="38.20" y="507.50" width="1.20" height="1.20" fill="#222" />
<rect x="38.20" y="515.00" width="1.20" height="1.20" fill="#222" />
<rect x="38.20" y="521.60" width="1.20" height="1.20" fill="#222" />
<text x="249.40" y="329.18" font-size="7.2" text-anchor="middle" fill="#111" font-weight="bold">A</text>
<text x="249.40" y="338.48" font-size="7.2" text-anchor="middle" fill="#111" font-weight="bold">U</text>
<text x="249.40" y="348.28" font-size="7.2" text-anchor="middle" fill="#111" font-weight="bold">G</text>
<text x="249.40" y="357.58" font-size="7.2" text-anchor="middle" fill="#111" font-weight="bold">U</text>
<text x="249.40" y="367.08" font-size="7.2" text-anchor="middle" fill="#111" font-weight="bold">G</text>
<text x="249.40" y="376.48" font-size="7.2" text-anchor="middle" fill="#9a9a9a">G</text>
<text x="249.40" y="385.98" font-size="7.2" text-anchor="middle" fill="#9a9a9a">A</text>
<text x="249.40" y="395.28" font-size="7.2" text-anchor="middle" fill="#9a9a9a">A</text>
<text x="249.40" y="404.78" font-size="7.2" text-anchor="middle" fill="#9a9a9a">G</text>
<text x="249.40" y="414.28" font-size="7.2" text-anchor="middle" fill="#9a9a9a">A</text>
<text x="249.40" y="423.98" font-size="7.2" text-anchor="middle" fill="#9a9a9a">U</text>
<text x="249.40" y="433.38" font-size="7.2" text-anchor="middle" fill="#9a9a9a">A</text>
<text x="249.40" y="442.48" font-size="7.2" text-anchor="middle" fill="#9a9a9a">C</text>
<text x="249.40" y="451.88" font-size="7.2" text-anchor="middle" fill="#9a9a9a">G</text>
<text x="249.40" y="461.28" font-size="7.2" text-anchor="middle" fill="#9a9a9a">G</text>
<text x="249.40" y="470.38" font-size="7.2" text-anchor="middle" fill="#9a9a9a">U</text>
<text x="249.40" y="480.28" font-size="7.2" text-anchor="middle" fill="#9a9a9a">U</text>
<text x="249.40" y="489.68" font-size="7.2" text-anchor="middle" fill="#9a9a9a">A</text>
<text x="249.40" y="498.78" font-size="7.2" text-anchor="middle" fill="#9a9a9a">U</text>
<rect x="248.80" y="299.20" width="1.20" height="1.20" fill="#222" />
<rect x="248.80" y="306.50" width="1.20" height="1.20" fill="#222" />
<rect x="248.80" y="313.10" width="1.20" height="1.20" fill="#222" />
<rect x="248.80" y="508.00" width="1.20" height="1.20" fill="#222" />
<rect x="248.80" y="515.00" width="1.20" height="1.20" fill="#222" />
<rect x="248.80" y="521.60" width="1.20" height="1.20" fill="#222" />
<circle cx="29.8" cy="326.5" r="2.5" fill="#fff" stroke="#111" stroke-width="0.9"/>
<circle cx="29.8" cy="344.8" r="3.1" fill="#000"/>
<circle cx="240.4" cy="326.7" r="2.5" fill="#fff" stroke="#111" stroke-width="0.9"/>
<circle cx="240.4" cy="345.8" r="3.1" fill="#000"/>
<text x="1.20" y="470.57" font-size="6.3" fill="#222" textLength="24.8" lengthAdjust="spacingAndGlyphs">+16 AUG</text>
<path d="M28.20,466.20 L33.20,468.40 L28.20,470.60 Z" fill="#fff" stroke="#222" stroke-width="0.7"/>
<line x1="33.20" y1="468.40" x2="34.40" y2="468.40" stroke="#222" stroke-width="0.7" />
<text x="1.20" y="479.97" font-size="6.3" fill="#222" textLength="24.8" lengthAdjust="spacingAndGlyphs">+17 AUG</text>
<path d="M28.20,475.60 L33.20,477.80 L28.20,480.00 Z" fill="#fff" stroke="#222" stroke-width="0.7"/>
<line x1="33.20" y1="477.80" x2="34.40" y2="477.80" stroke="#222" stroke-width="0.7" />
<text x="1.20" y="489.87" font-size="6.3" fill="#222" textLength="24.8" lengthAdjust="spacingAndGlyphs">+16 GUG</text>
<path d="M28.20,485.40 L33.40,487.70 L28.20,490.00 Z" fill="#000"/>
<line x1="27.00" y1="487.70" x2="28.20" y2="487.70" stroke="#222" stroke-width="0.8" />
<text x="1.20" y="498.97" font-size="6.3" fill="#222" textLength="24.8" lengthAdjust="spacingAndGlyphs">+17 GUG</text>
<path d="M28.20,494.50 L33.40,496.80 L28.20,499.10 Z" fill="#000"/>
<line x1="27.00" y1="496.80" x2="28.20" y2="496.80" stroke="#222" stroke-width="0.8" />
<text x="209.80" y="470.07" font-size="6.3" fill="#222" textLength="24.8" lengthAdjust="spacingAndGlyphs">+16 AUG</text>
<path d="M239.20,465.70 L244.20,467.90 L239.20,470.10 Z" fill="#fff" stroke="#222" stroke-width="0.7"/>
<line x1="244.20" y1="467.90" x2="245.40" y2="467.90" stroke="#222" stroke-width="0.7" />
<text x="209.80" y="479.97" font-size="6.3" fill="#222" textLength="24.8" lengthAdjust="spacingAndGlyphs">+17 AUG</text>
<path d="M239.20,475.60 L244.20,477.80 L239.20,480.00 Z" fill="#fff" stroke="#222" stroke-width="0.7"/>
<line x1="244.20" y1="477.80" x2="245.40" y2="477.80" stroke="#222" stroke-width="0.7" />
<text x="209.80" y="489.37" font-size="6.3" fill="#222" textLength="24.8" lengthAdjust="spacingAndGlyphs">+16 GUG</text>
<path d="M239.20,484.90 L244.40,487.20 L239.20,489.50 Z" fill="#000"/>
<line x1="238.00" y1="487.20" x2="239.20" y2="487.20" stroke="#222" stroke-width="0.8" />
<text x="209.80" y="498.47" font-size="6.3" fill="#222" textLength="24.8" lengthAdjust="spacingAndGlyphs">+17 GUG</text>
<path d="M239.20,494.00 L244.40,496.30 L239.20,498.60 Z" fill="#000"/>
<line x1="238.00" y1="496.30" x2="239.20" y2="496.30" stroke="#222" stroke-width="0.8" />
<text x="51.20" y="517.20" font-size="9.0" fill="#111" textLength="130.2" lengthAdjust="spacingAndGlyphs">5' -<tspan font-weight="bold">GGAGGAAU</tspan>GAAAU<tspan fill="#1a1aff" text-decoration="underline">GUG</tspan>- 3'</text>
<text x="116.60" y="526.60" font-size="9.0" text-anchor="middle" fill="#222" font-style="italic">S.a. aur</text>
<text x="264.80" y="517.30" font-size="9.0" fill="#111" textLength="141.5" lengthAdjust="spacingAndGlyphs">5' -AA<tspan font-weight="bold">AGGUAGU</tspan>GACGAU<tspan fill="#1a1aff" text-decoration="underline">GUG</tspan>- 3'</text>
<text x="335.90" y="526.10" font-size="9.0" text-anchor="middle" fill="#222" font-style="italic">S.a. rlmB</text>
<text x="428.50" y="273.20" font-size="22">D</text>
<text x="497.60" y="273.60" font-size="13.4" fill="#111" font-style="italic" textLength="19.1" lengthAdjust="spacingAndGlyphs">aur</text>
<text x="588.20" y="273.60" font-size="13.4" fill="#111" font-style="italic" textLength="26.8" lengthAdjust="spacingAndGlyphs">rlmB</text>
<text x="0" y="0" font-size="13.2" font-style="italic" text-anchor="middle" fill="#111" transform="translate(453.2 332.8) rotate(-90)" textLength="54" lengthAdjust="spacingAndGlyphs">S. aureus</text>
<text x="0" y="0" font-size="13.2" font-style="italic" text-anchor="middle" fill="#111" transform="translate(453.2 430.5) rotate(-90)" textLength="35.4" lengthAdjust="spacingAndGlyphs">E. coli</text>
<line x1="488.20" y1="297.30" x2="488.20" y2="374.20" stroke="#111" stroke-width="1.0" />
<line x1="488.20" y1="374.20" x2="540.00" y2="374.20" stroke="#111" stroke-width="1.0" />
<line x1="486.00" y1="374.20" x2="488.20" y2="374.20" stroke="#111" stroke-width="0.9" />
<text x="485.00" y="376.40" font-size="6.4" text-anchor="end" fill="#111" font-weight="bold">0.0</text>
<line x1="486.00" y1="354.98" x2="488.20" y2="354.98" stroke="#111" stroke-width="0.9" />
<text x="485.00" y="357.18" font-size="6.4" text-anchor="end" fill="#111" font-weight="bold">0.1</text>
<line x1="486.00" y1="335.75" x2="488.20" y2="335.75" stroke="#111" stroke-width="0.9" />
<text x="485.00" y="337.95" font-size="6.4" text-anchor="end" fill="#111" font-weight="bold">0.2</text>
<line x1="486.00" y1="316.52" x2="488.20" y2="316.52" stroke="#111" stroke-width="0.9" />
<text x="485.00" y="318.73" font-size="6.4" text-anchor="end" fill="#111" font-weight="bold">0.3</text>
<line x1="486.00" y1="297.30" x2="488.20" y2="297.30" stroke="#111" stroke-width="0.9" />
<text x="485.00" y="299.50" font-size="6.4" text-anchor="end" fill="#111" font-weight="bold">0.4</text>
<text x="0" y="0" font-size="7.5" text-anchor="middle" fill="#222" transform="translate(470.0 335.8) rotate(-90)">[fluc/rluc]</text>
<rect x="498.00" y="329.50" width="12.80" height="44.70" fill="#2b2bbd" stroke="#111" stroke-width="1"/>
<line x1="504.40" y1="329.50" x2="504.40" y2="319.20" stroke="#111" stroke-width="1.0" />
<line x1="500.65" y1="319.20" x2="508.15" y2="319.20" stroke="#111" stroke-width="1.0" />
<circle cx="499.60" cy="319.60" r="1.25" fill="#000"/>
<circle cx="504.30" cy="320.30" r="1.25" fill="#000"/>
<circle cx="509.50" cy="320.20" r="1.25" fill="#000"/>
<circle cx="504.40" cy="335.20" r="1.25" fill="#000"/>
<circle cx="500.40" cy="341.00" r="1.25" fill="#000"/>
<circle cx="507.00" cy="340.20" r="1.25" fill="#000"/>
<rect x="517.40" y="364.40" width="12.30" height="9.80" fill="#d9d9d9" stroke="#111" stroke-width="1"/>
<circle cx="519.50" cy="363.50" r="1.25" fill="#000"/>
<circle cx="522.50" cy="363.30" r="1.25" fill="#000"/>
<circle cx="525.50" cy="363.60" r="1.25" fill="#000"/>
<circle cx="528.00" cy="363.80" r="1.25" fill="#000"/>
<circle cx="521.00" cy="364.50" r="1.25" fill="#000"/>
<circle cx="526.50" cy="364.20" r="1.25" fill="#000"/>
<text x="514.40" y="298.53" font-size="6.2" text-anchor="middle" fill="#333">(p&lt;0.0001)</text>
<text x="514.60" y="308.30" font-size="9.0" text-anchor="middle" fill="#111" font-weight="bold">***</text>
<line x1="501.80" y1="308.80" x2="526.90" y2="308.80" stroke="#111" stroke-width="1.0" />
<line x1="584.90" y1="297.00" x2="584.90" y2="374.30" stroke="#111" stroke-width="1.0" />
<line x1="584.90" y1="374.30" x2="636.70" y2="374.30" stroke="#111" stroke-width="1.0" />
<line x1="582.70" y1="374.30" x2="584.90" y2="374.30" stroke="#111" stroke-width="0.9" />
<text x="581.70" y="376.50" font-size="6.4" text-anchor="end" fill="#111" font-weight="bold">0.00</text>
<line x1="582.70" y1="358.84" x2="584.90" y2="358.84" stroke="#111" stroke-width="0.9" />
<text x="581.70" y="361.04" font-size="6.4" text-anchor="end" fill="#111" font-weight="bold">0.02</text>
<line x1="582.70" y1="343.38" x2="584.90" y2="343.38" stroke="#111" stroke-width="0.9" />
<text x="581.70" y="345.58" font-size="6.4" text-anchor="end" fill="#111" font-weight="bold">0.04</text>
<line x1="582.70" y1="327.92" x2="584.90" y2="327.92" stroke="#111" stroke-width="0.9" />
<text x="581.70" y="330.12" font-size="6.4" text-anchor="end" fill="#111" font-weight="bold">0.06</text>
<line x1="582.70" y1="312.46" x2="584.90" y2="312.46" stroke="#111" stroke-width="0.9" />
<text x="581.70" y="314.66" font-size="6.4" text-anchor="end" fill="#111" font-weight="bold">0.08</text>
<line x1="582.70" y1="297.00" x2="584.90" y2="297.00" stroke="#111" stroke-width="0.9" />
<text x="581.70" y="299.20" font-size="6.4" text-anchor="end" fill="#111" font-weight="bold">0.10</text>
<text x="0" y="0" font-size="7.5" text-anchor="middle" fill="#222" transform="translate(563.5 335.6) rotate(-90)">[fluc/rluc]</text>
<rect x="594.60" y="316.60" width="12.70" height="57.70" fill="#2b2bbd" stroke="#111" stroke-width="1"/>
<line x1="600.95" y1="316.60" x2="600.95" y2="305.20" stroke="#111" stroke-width="1.0" />
<line x1="597.30" y1="305.20" x2="604.60" y2="305.20" stroke="#111" stroke-width="1.0" />
<circle cx="597.50" cy="305.50" r="1.25" fill="#000"/>
<circle cx="601.50" cy="304.30" r="1.25" fill="#000"/>
<circle cx="603.50" cy="305.50" r="1.25" fill="#000"/>
<circle cx="598.80" cy="327.60" r="1.25" fill="#000"/>
<circle cx="601.20" cy="324.80" r="1.25" fill="#000"/>
<circle cx="603.60" cy="327.20" r="1.25" fill="#000"/>
<rect x="614.30" y="372.60" width="12.00" height="1.70" fill="#222" stroke="#111" stroke-width="1"/>
<text x="610.60" y="289.73" font-size="6.2" text-anchor="middle" fill="#333">(p&lt;0.0001)</text>
<text x="610.80" y="299.80" font-size="9.0" text-anchor="middle" fill="#111" font-weight="bold">***</text>
<line x1="598.40" y1="300.50" x2="622.60" y2="300.50" stroke="#111" stroke-width="1.0" />
<line x1="488.60" y1="398.80" x2="488.60" y2="476.40" stroke="#111" stroke-width="1.0" />
<line x1="488.60" y1="476.40" x2="540.00" y2="476.40" stroke="#111" stroke-width="1.0" />
<line x1="486.40" y1="476.40" x2="488.60" y2="476.40" stroke="#111" stroke-width="0.9" />
<text x="485.40" y="478.60" font-size="6.4" text-anchor="end" fill="#111" font-weight="bold">0</text>
<line x1="486.40" y1="460.88" x2="488.60" y2="460.88" stroke="#111" stroke-width="0.9" />
<text x="485.40" y="463.08" font-size="6.4" text-anchor="end" fill="#111" font-weight="bold">1</text>
<line x1="486.40" y1="445.36" x2="488.60" y2="445.36" stroke="#111" stroke-width="0.9" />
<text x="485.40" y="447.56" font-size="6.4" text-anchor="end" fill="#111" font-weight="bold">2</text>
<line x1="486.40" y1="429.84" x2="488.60" y2="429.84" stroke="#111" stroke-width="0.9" />
<text x="485.40" y="432.04" font-size="6.4" text-anchor="end" fill="#111" font-weight="bold">3</text>
<line x1="486.40" y1="414.32" x2="488.60" y2="414.32" stroke="#111" stroke-width="0.9" />
<text x="485.40" y="416.52" font-size="6.4" text-anchor="end" fill="#111" font-weight="bold">4</text>
<line x1="486.40" y1="398.80" x2="488.60" y2="398.80" stroke="#111" stroke-width="0.9" />
<text x="485.40" y="401.00" font-size="6.4" text-anchor="end" fill="#111" font-weight="bold">5</text>
<text x="0" y="0" font-size="7.5" text-anchor="middle" fill="#222" transform="translate(470.0 437.6) rotate(-90)">[fluc/rluc]</text>
<rect x="498.20" y="464.40" width="12.60" height="12.00" fill="#2b2bbd" stroke="#111" stroke-width="1"/>
<line x1="504.50" y1="464.40" x2="504.50" y2="459.10" stroke="#111" stroke-width="1.0" />
<line x1="500.75" y1="459.10" x2="508.25" y2="459.10" stroke="#111" stroke-width="1.0" />
<circle cx="500.80" cy="458.20" r="1.25" fill="#000"/>
<circle cx="505.50" cy="457.80" r="1.25" fill="#000"/>
<circle cx="509.00" cy="458.60" r="1.25" fill="#000"/>
<circle cx="502.00" cy="470.50" r="1.25" fill="#000"/>
<circle cx="506.80" cy="471.20" r="1.25" fill="#000"/>
<circle cx="499.80" cy="465.50" r="1.25" fill="#000"/>
<circle cx="504.50" cy="466.50" r="1.25" fill="#000"/>
<circle cx="508.50" cy="468.50" r="1.25" fill="#000"/>
<rect x="517.40" y="438.40" width="12.70" height="38.00" fill="#d9d9d9" stroke="#111" stroke-width="1"/>
<line x1="523.75" y1="438.40" x2="523.75" y2="419.50" stroke="#111" stroke-width="1.0" />
<line x1="520.45" y1="419.50" x2="527.05" y2="419.50" stroke="#111" stroke-width="1.0" />
<circle cx="524.00" cy="407.30" r="1.25" fill="#000"/>
<circle cx="524.00" cy="414.30" r="1.25" fill="#000"/>
<circle cx="523.80" cy="430.00" r="1.25" fill="#000"/>
<circle cx="523.50" cy="445.30" r="1.25" fill="#000"/>
<circle cx="520.80" cy="451.00" r="1.25" fill="#000"/>
<circle cx="527.80" cy="451.00" r="1.25" fill="#000"/>
<circle cx="524.00" cy="456.30" r="1.25" fill="#000"/>
<circle cx="527.50" cy="447.50" r="1.25" fill="#000"/>
<text x="513.60" y="390.63" font-size="6.2" text-anchor="middle" fill="#333">(p=0.0014)</text>
<text x="513.40" y="401.00" font-size="9.0" text-anchor="middle" fill="#111" font-weight="bold">**</text>
<line x1="501.40" y1="401.30" x2="525.90" y2="401.30" stroke="#111" stroke-width="1.0" />
<line x1="583.90" y1="398.80" x2="583.90" y2="476.40" stroke="#111" stroke-width="1.0" />
<line x1="583.90" y1="476.40" x2="636.30" y2="476.40" stroke="#111" stroke-width="1.0" />
<line x1="581.70" y1="476.40" x2="583.90" y2="476.40" stroke="#111" stroke-width="0.9" />
<text x="580.70" y="478.60" font-size="6.4" text-anchor="end" fill="#111" font-weight="bold">0.00</text>
<line x1="581.70" y1="450.53" x2="583.90" y2="450.53" stroke="#111" stroke-width="0.9" />
<text x="580.70" y="452.73" font-size="6.4" text-anchor="end" fill="#111" font-weight="bold">0.02</text>
<line x1="581.70" y1="424.67" x2="583.90" y2="424.67" stroke="#111" stroke-width="0.9" />
<text x="580.70" y="426.87" font-size="6.4" text-anchor="end" fill="#111" font-weight="bold">0.04</text>
<line x1="581.70" y1="398.80" x2="583.90" y2="398.80" stroke="#111" stroke-width="0.9" />
<text x="580.70" y="401.00" font-size="6.4" text-anchor="end" fill="#111" font-weight="bold">0.06</text>
<text x="0" y="0" font-size="7.5" text-anchor="middle" fill="#222" transform="translate(563.5 437.6) rotate(-90)">[fluc/rluc]</text>
<rect x="594.80" y="451.90" width="12.30" height="24.50" fill="#0a0aa8" stroke="#111" stroke-width="1"/>
<line x1="600.95" y1="451.90" x2="600.95" y2="446.90" stroke="#111" stroke-width="1.0" />
<line x1="597.70" y1="446.90" x2="604.20" y2="446.90" stroke="#111" stroke-width="1.0" />
<circle cx="600.80" cy="444.00" r="1.25" fill="#000"/>
<circle cx="597.00" cy="447.80" r="1.25" fill="#000"/>
<circle cx="604.60" cy="447.30" r="1.25" fill="#000"/>
<circle cx="596.50" cy="455.20" r="1.25" fill="#000"/>
<circle cx="600.00" cy="457.00" r="1.25" fill="#000"/>
<circle cx="603.50" cy="456.00" r="1.25" fill="#000"/>
<circle cx="605.50" cy="452.50" r="1.25" fill="#000"/>
<rect x="614.00" y="422.90" width="12.30" height="53.50" fill="#d9d9d9" stroke="#111" stroke-width="1"/>
<line x1="620.15" y1="422.90" x2="620.15" y2="415.80" stroke="#111" stroke-width="1.0" />
<line x1="617.30" y1="415.80" x2="623.00" y2="415.80" stroke="#111" stroke-width="1.0" />
<circle cx="620.20" cy="410.70" r="1.25" fill="#000"/>
<circle cx="616.50" cy="421.30" r="1.25" fill="#000"/>
<circle cx="620.00" cy="424.50" r="1.25" fill="#000"/>
<circle cx="622.60" cy="421.00" r="1.25" fill="#000"/>
<circle cx="617.50" cy="427.50" r="1.25" fill="#000"/>
<circle cx="621.00" cy="429.50" r="1.25" fill="#000"/>
<circle cx="620.00" cy="432.20" r="1.25" fill="#000"/>
<circle cx="623.20" cy="426.00" r="1.25" fill="#000"/>
<text x="610.60" y="395.73" font-size="6.2" text-anchor="middle" fill="#333">(p&lt;0.0001)</text>
<text x="610.40" y="405.90" font-size="9.0" text-anchor="middle" fill="#111" font-weight="bold">***</text>
<line x1="598.60" y1="406.00" x2="622.50" y2="406.00" stroke="#111" stroke-width="1.0" />
<text x="643.00" y="298.95" font-size="10.6" fill="#111" textLength="23.2" lengthAdjust="spacingAndGlyphs">AUG</text>
<text x="643.00" y="315.75" font-size="10.6" fill="#111" textLength="24.6" lengthAdjust="spacingAndGlyphs">GUG</text>
<rect x="671.6" y="292.7" width="12.8" height="4.8" fill="#dcdcdc" stroke="#555" stroke-width="0.9"/>
<rect x="671.6" y="309.2" width="12.8" height="5.0" fill="#2b2bbd" stroke="#555" stroke-width="0.9"/>
<line x1="471.10" y1="513.30" x2="641.70" y2="513.30" stroke="#111" stroke-width="1.0" />
<text x="463.30" y="499.06" font-size="8.6" fill="#111" textLength="19" lengthAdjust="spacingAndGlyphs">pBlaz</text>
<text x="482.20" y="500.90" font-size="5.0" fill="#111" textLength="11.6" lengthAdjust="spacingAndGlyphs">weak</text>
<path d="M483.6,513.3 L483.6,506.6 L488.4,506.6" fill="none" stroke="#111" stroke-width="1"/>
<path d="M490.4,506.6 L487.6,504.9 L487.6,508.3 Z" fill="#111"/>
<rect x="501.6" y="509.4" width="24.4" height="7.8" rx="2.6" fill="#fff" stroke="#111" stroke-width="0.9"/>
<path d="M566.3,509.4 L614.6,509.4 Q616.9,509.4 616.9,511.7 L616.9,515.0 Q616.9,517.3 614.6,517.3 L566.3,517.3 Z" fill="#fff" stroke="#111" stroke-width="0.9"/>
<rect x="548.20" y="509.40" width="18.10" height="3.95" fill="#2424c4" />
<rect x="548.20" y="513.35" width="18.10" height="3.95" fill="#cfcfcf" />
<rect x="548.2" y="509.4" width="18.1" height="7.9" fill="none" stroke="#111" stroke-width="0.9"/>
<line x1="548.20" y1="513.35" x2="566.30" y2="513.35" stroke="#333" stroke-width="0.6" />
<line x1="632.80" y1="513.30" x2="632.80" y2="504.20" stroke="#111" stroke-width="1.0" />
<circle cx="632.8" cy="501.1" r="3" fill="#fff" stroke="#111" stroke-width="0.9"/>
<text x="532.70" y="501.40" font-size="9.0" fill="#222" textLength="74.3" lengthAdjust="spacingAndGlyphs"><tspan fill="#2a2ae0">GUG</tspan> or AUG in-frame</text>
<text x="485.50" y="529.70" font-size="9.0" fill="#222" textLength="48.8" lengthAdjust="spacingAndGlyphs">rluc (constant)</text>
<text x="563.20" y="529.70" font-size="9.0" fill="#222" textLength="45.2" lengthAdjust="spacingAndGlyphs">fluc (variable)</text>
</svg>
</body></html>
